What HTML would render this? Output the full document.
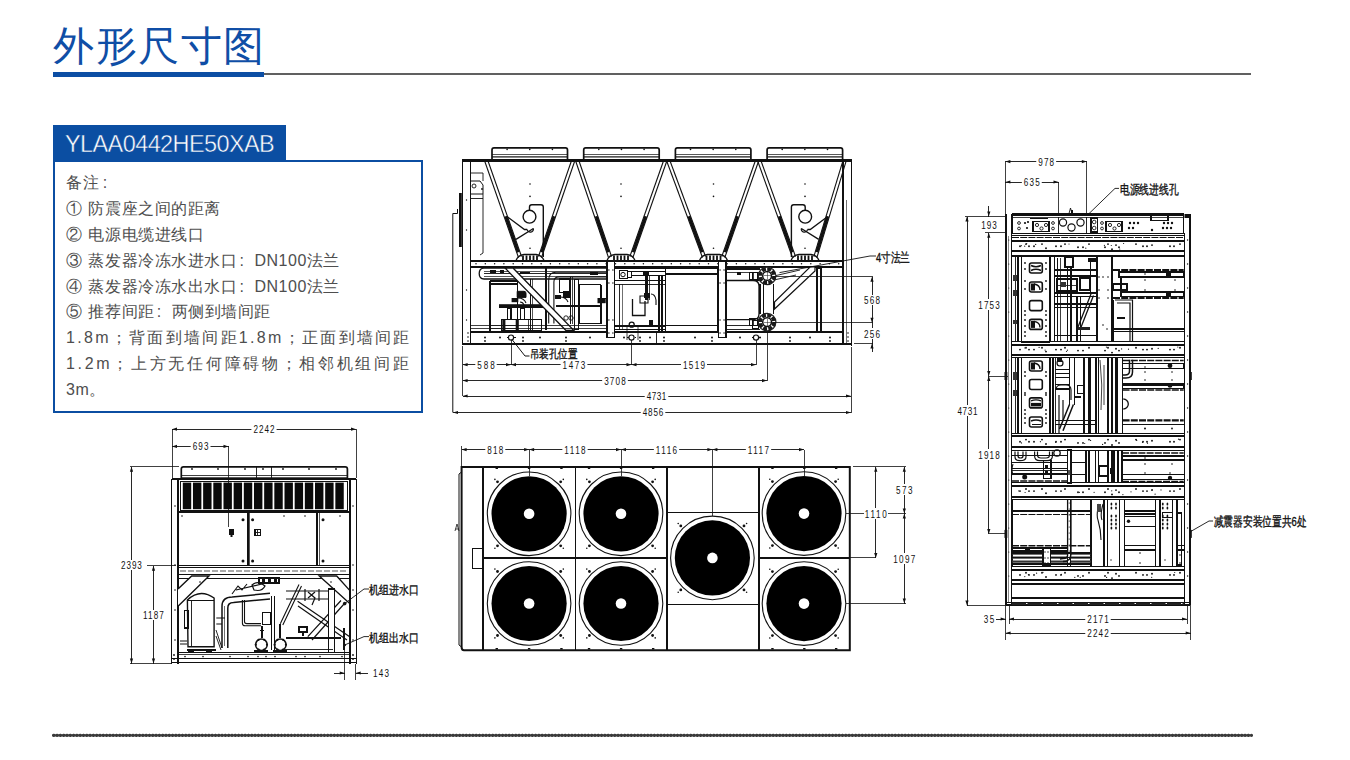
<!DOCTYPE html>
<html><head><meta charset="utf-8">
<style>
html,body{margin:0;padding:0;background:#fff;}
body{width:1350px;height:760px;position:relative;overflow:hidden;font-family:"Liberation Sans",sans-serif;}
.title{position:absolute;left:53px;top:18px;font-size:41px;line-height:56px;color:#0f4ea6;letter-spacing:1.5px;white-space:nowrap;}
.bar{position:absolute;left:53px;top:72px;width:211px;height:5px;background:#0c4ea4;}
.rule{position:absolute;left:264px;top:73px;width:987px;height:2px;background:#606060;}
.hdr{position:absolute;left:53px;top:125px;width:233px;height:36px;background:#0b4ea2;}
.hdr span{position:absolute;left:12px;top:5px;font-size:23.5px;line-height:28px;color:#fff;white-space:nowrap;letter-spacing:-0.6px;-webkit-text-stroke:0.45px #0b4ea2;}
.box{position:absolute;left:52.5px;top:159.5px;width:366.5px;height:249px;border:2px solid #0b4ea2;}
.notes{position:absolute;left:66px;top:170.4px;width:341px;font-size:16px;line-height:25.8px;color:#4e4e4e;letter-spacing:0.55px;}
.notes div{white-space:nowrap;}
.notes .n{display:inline-block;width:22px;}
.notes .c{display:inline-block;width:17px;padding-left:2px;box-sizing:border-box;}
svg{position:absolute;left:0;top:0;}
</style></head><body>
<div class="title">外形尺寸图</div>
<div class="bar"></div>
<div class="rule"></div>
<div class="box"></div>
<div class="hdr"><span>YLAA0442HE50XAB</span></div>
<div class="notes">
<div>备注 :</div>
<div>① 防震座之间的距离</div>
<div>② 电源电缆进线口</div>
<div>③ 蒸发器冷冻水进水口<span class="c">:</span>DN100法兰</div>
<div>④ 蒸发器冷冻水出水口<span class="c">:</span>DN100法兰</div>
<div>⑤ 推荐间距<span class="c">:</span>两侧到墙间距</div>
<div style="letter-spacing:2.3px">1.8m；背面到墙间距1.8m；正面到墙间距</div>
<div style="letter-spacing:2.7px">1.2m；上方无任何障碍物；相邻机组间距</div>
<div>3m。</div>
</div>
<svg width="1350" height="760" viewBox="0 0 1350 760">
<path d="M492.0,159.3 L492.0,150 Q492.0,147.9 494.0,147.9 L565.5,147.9 Q567.5,147.9 567.5,150 L567.5,159.3" stroke="#111" stroke-width="1.7" fill="none"/>
<line x1="492.0" y1="154.5" x2="567.5" y2="154.5" stroke="#111" stroke-width="0.7" shape-rendering="crispEdges"/>
<line x1="492.0" y1="156.3" x2="567.5" y2="156.3" stroke="#111" stroke-width="0.7" shape-rendering="crispEdges"/>
<line x1="492.0" y1="157.8" x2="567.5" y2="157.8" stroke="#111" stroke-width="0.5" shape-rendering="crispEdges"/>
<circle cx="507.1" cy="149.4" r="0.8" fill="#111"/>
<circle cx="529.75" cy="149.4" r="0.8" fill="#111"/>
<circle cx="552.4" cy="149.4" r="0.8" fill="#111"/>
<path d="M583.7,159.3 L583.7,150 Q583.7,147.9 585.7,147.9 L657.2,147.9 Q659.2,147.9 659.2,150 L659.2,159.3" stroke="#111" stroke-width="1.7" fill="none"/>
<line x1="583.7" y1="154.5" x2="659.2" y2="154.5" stroke="#111" stroke-width="0.7" shape-rendering="crispEdges"/>
<line x1="583.7" y1="156.3" x2="659.2" y2="156.3" stroke="#111" stroke-width="0.7" shape-rendering="crispEdges"/>
<line x1="583.7" y1="157.8" x2="659.2" y2="157.8" stroke="#111" stroke-width="0.5" shape-rendering="crispEdges"/>
<circle cx="598.8000000000001" cy="149.4" r="0.8" fill="#111"/>
<circle cx="621.45" cy="149.4" r="0.8" fill="#111"/>
<circle cx="644.1" cy="149.4" r="0.8" fill="#111"/>
<path d="M675.4,159.3 L675.4,150 Q675.4,147.9 677.4,147.9 L748.9,147.9 Q750.9,147.9 750.9,150 L750.9,159.3" stroke="#111" stroke-width="1.7" fill="none"/>
<line x1="675.4" y1="154.5" x2="750.9" y2="154.5" stroke="#111" stroke-width="0.7" shape-rendering="crispEdges"/>
<line x1="675.4" y1="156.3" x2="750.9" y2="156.3" stroke="#111" stroke-width="0.7" shape-rendering="crispEdges"/>
<line x1="675.4" y1="157.8" x2="750.9" y2="157.8" stroke="#111" stroke-width="0.5" shape-rendering="crispEdges"/>
<circle cx="690.5" cy="149.4" r="0.8" fill="#111"/>
<circle cx="713.15" cy="149.4" r="0.8" fill="#111"/>
<circle cx="735.8" cy="149.4" r="0.8" fill="#111"/>
<path d="M767.1,159.3 L767.1,150 Q767.1,147.9 769.1,147.9 L840.6,147.9 Q842.6,147.9 842.6,150 L842.6,159.3" stroke="#111" stroke-width="1.7" fill="none"/>
<line x1="767.1" y1="154.5" x2="842.6" y2="154.5" stroke="#111" stroke-width="0.7" shape-rendering="crispEdges"/>
<line x1="767.1" y1="156.3" x2="842.6" y2="156.3" stroke="#111" stroke-width="0.7" shape-rendering="crispEdges"/>
<line x1="767.1" y1="157.8" x2="842.6" y2="157.8" stroke="#111" stroke-width="0.5" shape-rendering="crispEdges"/>
<circle cx="782.2" cy="149.4" r="0.8" fill="#111"/>
<circle cx="804.85" cy="149.4" r="0.8" fill="#111"/>
<circle cx="827.5" cy="149.4" r="0.8" fill="#111"/>
<line x1="462.5" y1="160.3" x2="851.5" y2="160.3" stroke="#111" stroke-width="2.4" shape-rendering="crispEdges"/>
<line x1="462.5" y1="159" x2="462.5" y2="345" stroke="#111" stroke-width="1.1" shape-rendering="crispEdges"/>
<line x1="470.5" y1="159" x2="470.5" y2="344" stroke="#111" stroke-width="1.0" shape-rendering="crispEdges"/>
<line x1="851.5" y1="159" x2="851.5" y2="346" stroke="#111" stroke-width="1.5" shape-rendering="crispEdges"/>
<line x1="843" y1="159" x2="843" y2="344" stroke="#111" stroke-width="1.3" shape-rendering="crispEdges"/>
<line x1="846.5" y1="200" x2="846.5" y2="344" stroke="#111" stroke-width="0.6" shape-rendering="crispEdges"/>
<circle cx="466.5" cy="200" r="0.7" fill="#111"/>
<circle cx="466.5" cy="230" r="0.7" fill="#111"/>
<circle cx="466.5" cy="290" r="0.7" fill="#111"/>
<circle cx="466.5" cy="320" r="0.7" fill="#111"/>
<line x1="484.4900694706371" y1="160.52925399998287" x2="518.4900694706371" y2="257.52925399998287" stroke="#111" stroke-width="1.1"/>
<line x1="487.5099305293629" y1="159.47074600001713" x2="521.5099305293629" y2="256.47074600001713" stroke="#111" stroke-width="1.1"/>
<line x1="505.72" y1="216.26" x2="518.3" y2="252.14999999999998" stroke="#111" stroke-width="3.0"/>
<line x1="571.8871713425139" y1="159.47908786432953" x2="538.4871713425139" y2="256.47908786432953" stroke="#111" stroke-width="1.1"/>
<line x1="574.9128286574861" y1="160.52091213567047" x2="541.5128286574861" y2="257.52091213567047" stroke="#111" stroke-width="1.1"/>
<line x1="554.028" y1="216.26" x2="541.67" y2="252.14999999999998" stroke="#111" stroke-width="3.0"/>
<line x1="575.4852588188488" y1="160.51532431936073" x2="608.4852588188488" y2="257.51532431936073" stroke="#111" stroke-width="1.1"/>
<line x1="578.5147411811512" y1="159.48467568063927" x2="611.5147411811512" y2="256.48467568063927" stroke="#111" stroke-width="1.1"/>
<line x1="596.14" y1="216.26" x2="608.35" y2="252.14999999999998" stroke="#111" stroke-width="3.0"/>
<line x1="663.9905558718951" y1="159.46936036321262" x2="629.8905558718951" y2="256.4693603632126" stroke="#111" stroke-width="1.1"/>
<line x1="667.0094441281049" y1="160.53063963678738" x2="632.9094441281048" y2="257.5306396367874" stroke="#111" stroke-width="1.1"/>
<line x1="645.722" y1="216.26" x2="633.105" y2="252.14999999999998" stroke="#111" stroke-width="3.0"/>
<line x1="666.4999754011047" y1="160.55671016041475" x2="702.4999754011047" y2="257.55671016041475" stroke="#111" stroke-width="1.1"/>
<line x1="669.5000245988953" y1="159.44328983958525" x2="705.5000245988953" y2="256.44328983958525" stroke="#111" stroke-width="1.1"/>
<line x1="688.88" y1="216.26" x2="702.2" y2="252.14999999999998" stroke="#111" stroke-width="3.0"/>
<line x1="755.790069470637" y1="159.47074600001713" x2="721.790069470637" y2="256.47074600001713" stroke="#111" stroke-width="1.1"/>
<line x1="758.8099305293629" y1="160.52925399998287" x2="724.8099305293629" y2="257.52925399998287" stroke="#111" stroke-width="1.1"/>
<line x1="737.5799999999999" y1="216.26" x2="725.0" y2="252.14999999999998" stroke="#111" stroke-width="3.0"/>
<line x1="757.4949761267238" y1="160.5430498511821" x2="792.4949761267238" y2="257.5430498511821" stroke="#111" stroke-width="1.1"/>
<line x1="760.5050238732762" y1="159.4569501488179" x2="795.5050238732762" y2="256.4569501488179" stroke="#111" stroke-width="1.1"/>
<line x1="779.3" y1="216.26" x2="792.25" y2="252.14999999999998" stroke="#111" stroke-width="3.0"/>
<line x1="843.268787508308" y1="159.53590054375525" x2="813.8687875083081" y2="256.53590054375525" stroke="#111" stroke-width="1.1"/>
<line x1="846.3312124916919" y1="160.46409945624475" x2="816.9312124916919" y2="257.46409945624475" stroke="#111" stroke-width="1.1"/>
<line x1="827.7479999999999" y1="216.26" x2="816.87" y2="252.14999999999998" stroke="#111" stroke-width="3.0"/>
<path d="M516,260.5 Q518,255 524,254.5 L536,254.5 Q542,255 544,260.5" stroke="#111" stroke-width="1.3" fill="none"/>
<rect x="522.1" y="255.5" width="1.8" height="4.5" fill="#111"/>
<rect x="525.6" y="255.5" width="1.8" height="4.5" fill="#111"/>
<rect x="529.1" y="255.5" width="1.8" height="4.5" fill="#111"/>
<rect x="532.6" y="255.5" width="1.8" height="4.5" fill="#111"/>
<rect x="536.1" y="255.5" width="1.8" height="4.5" fill="#111"/>
<path d="M607,260.5 Q609,255 615,254.5 L627,254.5 Q633,255 635,260.5" stroke="#111" stroke-width="1.3" fill="none"/>
<rect x="613.1" y="255.5" width="1.8" height="4.5" fill="#111"/>
<rect x="616.6" y="255.5" width="1.8" height="4.5" fill="#111"/>
<rect x="620.1" y="255.5" width="1.8" height="4.5" fill="#111"/>
<rect x="623.6" y="255.5" width="1.8" height="4.5" fill="#111"/>
<rect x="627.1" y="255.5" width="1.8" height="4.5" fill="#111"/>
<path d="M699.5,260.5 Q701.5,255 707.5,254.5 L719.5,254.5 Q725.5,255 727.5,260.5" stroke="#111" stroke-width="1.3" fill="none"/>
<rect x="705.6" y="255.5" width="1.8" height="4.5" fill="#111"/>
<rect x="709.1" y="255.5" width="1.8" height="4.5" fill="#111"/>
<rect x="712.6" y="255.5" width="1.8" height="4.5" fill="#111"/>
<rect x="716.1" y="255.5" width="1.8" height="4.5" fill="#111"/>
<rect x="719.6" y="255.5" width="1.8" height="4.5" fill="#111"/>
<path d="M791,260.5 Q793,255 799,254.5 L811,254.5 Q817,255 819,260.5" stroke="#111" stroke-width="1.3" fill="none"/>
<rect x="797.1" y="255.5" width="1.8" height="4.5" fill="#111"/>
<rect x="800.6" y="255.5" width="1.8" height="4.5" fill="#111"/>
<rect x="804.1" y="255.5" width="1.8" height="4.5" fill="#111"/>
<rect x="807.6" y="255.5" width="1.8" height="4.5" fill="#111"/>
<rect x="811.1" y="255.5" width="1.8" height="4.5" fill="#111"/>
<g >
<path d="M529.5,211 L529.5,207 Q529.5,204.8 531.8,204.8 L541,204.8 Q543.3,204.8 543.3,207 L543.3,257" stroke="#111" stroke-width="1.4" fill="none"/>
<circle cx="529.5" cy="216.7" r="6.4" fill="#fff" stroke="#111" stroke-width="1.4"/>
<path d="M507.3,216.7 L524.5,229.5 L527.2,229.5 M533.4,228.5 L516,239.4" stroke="#111" stroke-width="1.3" fill="none"/>
<path d="M527.2,229.5 A3,3 0 1 0 533.4,228.5" stroke="#111" stroke-width="1.2" fill="none"/>
</g>
<g transform="translate(1334.7,0) scale(-1,1)">
<path d="M529.5,211 L529.5,207 Q529.5,204.8 531.8,204.8 L541,204.8 Q543.3,204.8 543.3,207 L543.3,257" stroke="#111" stroke-width="1.4" fill="none"/>
<circle cx="529.5" cy="216.7" r="6.4" fill="#fff" stroke="#111" stroke-width="1.4"/>
<path d="M507.3,216.7 L524.5,229.5 L527.2,229.5 M533.4,228.5 L516,239.4" stroke="#111" stroke-width="1.3" fill="none"/>
<path d="M527.2,229.5 A3,3 0 1 0 533.4,228.5" stroke="#111" stroke-width="1.2" fill="none"/>
</g>
<circle cx="530" cy="184" r="0.8" fill="#111"/>
<circle cx="530" cy="196.4" r="0.8" fill="#111"/>
<circle cx="530" cy="248.2" r="0.8" fill="#111"/>
<circle cx="621" cy="184" r="0.8" fill="#111"/>
<circle cx="621" cy="196.4" r="0.8" fill="#111"/>
<circle cx="621" cy="248.2" r="0.8" fill="#111"/>
<circle cx="713.5" cy="184" r="0.8" fill="#111"/>
<circle cx="713.5" cy="196.4" r="0.8" fill="#111"/>
<circle cx="713.5" cy="248.2" r="0.8" fill="#111"/>
<circle cx="805" cy="184" r="0.8" fill="#111"/>
<circle cx="805" cy="196.4" r="0.8" fill="#111"/>
<circle cx="805" cy="248.2" r="0.8" fill="#111"/>
<path d="M471,173 L483,173 L483,181 M483,194 L483,253 L480,255" stroke="#111" stroke-width="0.9" fill="none"/>
<path d="M471,181 L480,181 L483,185 L483,194 L471,194" stroke="#111" stroke-width="1.0" fill="none"/>
<circle cx="474" cy="186" r="2" fill="none" stroke="#111" stroke-width="0.9"/>
<circle cx="482" cy="189" r="0.9" fill="#111"/>
<line x1="471" y1="198" x2="483" y2="198" stroke="#111" stroke-width="0.9" shape-rendering="crispEdges"/>
<rect x="459" y="193" width="2.8" height="54" fill="#111"/>
<path d="M452.8,412.5 L452.8,213.5 L457.5,213.5 L457.5,209" stroke="#111" stroke-width="1" fill="none"/>
<line x1="470.5" y1="261" x2="843" y2="261" stroke="#111" stroke-width="2.2" shape-rendering="crispEdges"/>
<line x1="470.5" y1="267" x2="843" y2="267" stroke="#111" stroke-width="1.8" shape-rendering="crispEdges"/>
<circle cx="476.0" cy="263.8" r="0.75" fill="#111"/>
<circle cx="485.3" cy="263.8" r="0.75" fill="#111"/>
<circle cx="494.6" cy="263.8" r="0.75" fill="#111"/>
<circle cx="503.9" cy="263.8" r="0.75" fill="#111"/>
<circle cx="513.2" cy="263.8" r="0.75" fill="#111"/>
<circle cx="522.5" cy="263.8" r="0.75" fill="#111"/>
<circle cx="531.8" cy="263.8" r="0.75" fill="#111"/>
<circle cx="541.1" cy="263.8" r="0.75" fill="#111"/>
<circle cx="550.4" cy="263.8" r="0.75" fill="#111"/>
<circle cx="559.7" cy="263.8" r="0.75" fill="#111"/>
<circle cx="569.0" cy="263.8" r="0.75" fill="#111"/>
<circle cx="578.3" cy="263.8" r="0.75" fill="#111"/>
<circle cx="587.6" cy="263.8" r="0.75" fill="#111"/>
<circle cx="596.9" cy="263.8" r="0.75" fill="#111"/>
<circle cx="606.2" cy="263.8" r="0.75" fill="#111"/>
<circle cx="615.5" cy="263.8" r="0.75" fill="#111"/>
<circle cx="624.8" cy="263.8" r="0.75" fill="#111"/>
<circle cx="634.1" cy="263.8" r="0.75" fill="#111"/>
<circle cx="643.4" cy="263.8" r="0.75" fill="#111"/>
<circle cx="652.7" cy="263.8" r="0.75" fill="#111"/>
<circle cx="662.0" cy="263.8" r="0.75" fill="#111"/>
<circle cx="671.3" cy="263.8" r="0.75" fill="#111"/>
<circle cx="680.6" cy="263.8" r="0.75" fill="#111"/>
<circle cx="689.9" cy="263.8" r="0.75" fill="#111"/>
<circle cx="699.2" cy="263.8" r="0.75" fill="#111"/>
<circle cx="708.5" cy="263.8" r="0.75" fill="#111"/>
<circle cx="717.8" cy="263.8" r="0.75" fill="#111"/>
<circle cx="727.1" cy="263.8" r="0.75" fill="#111"/>
<circle cx="736.4" cy="263.8" r="0.75" fill="#111"/>
<circle cx="745.7" cy="263.8" r="0.75" fill="#111"/>
<circle cx="755.0" cy="263.8" r="0.75" fill="#111"/>
<circle cx="764.3" cy="263.8" r="0.75" fill="#111"/>
<circle cx="773.6" cy="263.8" r="0.75" fill="#111"/>
<circle cx="782.9" cy="263.8" r="0.75" fill="#111"/>
<circle cx="792.2" cy="263.8" r="0.75" fill="#111"/>
<circle cx="801.5" cy="263.8" r="0.75" fill="#111"/>
<circle cx="810.8" cy="263.8" r="0.75" fill="#111"/>
<circle cx="820.1" cy="263.8" r="0.75" fill="#111"/>
<circle cx="829.4" cy="263.8" r="0.75" fill="#111"/>
<circle cx="838.7" cy="263.8" r="0.75" fill="#111"/>
<line x1="470.5" y1="331.8" x2="843" y2="331.8" stroke="#111" stroke-width="2.0" shape-rendering="crispEdges"/>
<line x1="462.5" y1="344" x2="851.5" y2="344" stroke="#111" stroke-width="2.0" shape-rendering="crispEdges"/>
<circle cx="485" cy="337.6" r="1.0" fill="#111"/>
<circle cx="500" cy="337.6" r="1.0" fill="#111"/>
<circle cx="523" cy="337.6" r="1.0" fill="#111"/>
<circle cx="540" cy="337.6" r="1.0" fill="#111"/>
<circle cx="566" cy="337.6" r="1.0" fill="#111"/>
<circle cx="590" cy="337.6" r="1.0" fill="#111"/>
<circle cx="624" cy="337.6" r="1.0" fill="#111"/>
<circle cx="640" cy="337.6" r="1.0" fill="#111"/>
<circle cx="650" cy="337.6" r="1.0" fill="#111"/>
<circle cx="664" cy="337.6" r="1.0" fill="#111"/>
<circle cx="695" cy="337.6" r="1.0" fill="#111"/>
<circle cx="712" cy="337.6" r="1.0" fill="#111"/>
<circle cx="740" cy="337.6" r="1.0" fill="#111"/>
<circle cx="760" cy="337.6" r="1.0" fill="#111"/>
<circle cx="790" cy="337.6" r="1.0" fill="#111"/>
<circle cx="810" cy="337.6" r="1.0" fill="#111"/>
<circle cx="830" cy="337.6" r="1.0" fill="#111"/>
<circle cx="485" cy="341" r="0.9" fill="#111"/>
<circle cx="523" cy="341" r="0.9" fill="#111"/>
<circle cx="566" cy="341" r="0.9" fill="#111"/>
<circle cx="640" cy="341" r="0.9" fill="#111"/>
<circle cx="664" cy="341" r="0.9" fill="#111"/>
<circle cx="712" cy="341" r="0.9" fill="#111"/>
<circle cx="790" cy="341" r="0.9" fill="#111"/>
<circle cx="830" cy="341" r="0.9" fill="#111"/>
<line x1="656.5" y1="331.5" x2="656.5" y2="344" stroke="#111" stroke-width="0.9" shape-rendering="crispEdges"/>
<circle cx="468" cy="333" r="0.8" fill="#111"/>
<circle cx="468" cy="337" r="0.8" fill="#111"/>
<circle cx="468" cy="341" r="0.8" fill="#111"/>
<circle cx="848" cy="333" r="0.8" fill="#111"/>
<circle cx="848" cy="337" r="0.8" fill="#111"/>
<circle cx="848" cy="341" r="0.8" fill="#111"/>
<rect x="607" y="261" width="7.7999999999999545" height="76.5" fill="#fff" stroke="#111" stroke-width="1.4" rx="0" shape-rendering="crispEdges"/>
<circle cx="608.9" cy="270" r="0.7" fill="#111"/>
<circle cx="612.9" cy="270" r="0.7" fill="#111"/>
<circle cx="608.9" cy="283" r="0.7" fill="#111"/>
<circle cx="612.9" cy="283" r="0.7" fill="#111"/>
<circle cx="608.9" cy="320" r="0.7" fill="#111"/>
<circle cx="612.9" cy="320" r="0.7" fill="#111"/>
<circle cx="608.9" cy="333" r="0.7" fill="#111"/>
<circle cx="612.9" cy="333" r="0.7" fill="#111"/>
<rect x="718.2" y="261" width="7.699999999999932" height="76.5" fill="#fff" stroke="#111" stroke-width="1.4" rx="0" shape-rendering="crispEdges"/>
<circle cx="720.05" cy="270" r="0.7" fill="#111"/>
<circle cx="724.05" cy="270" r="0.7" fill="#111"/>
<circle cx="720.05" cy="283" r="0.7" fill="#111"/>
<circle cx="724.05" cy="283" r="0.7" fill="#111"/>
<circle cx="720.05" cy="320" r="0.7" fill="#111"/>
<circle cx="724.05" cy="320" r="0.7" fill="#111"/>
<circle cx="720.05" cy="333" r="0.7" fill="#111"/>
<circle cx="724.05" cy="333" r="0.7" fill="#111"/>
<rect x="817" y="268" width="4" height="64" fill="none" stroke="#111" stroke-width="1.1" rx="0" shape-rendering="crispEdges"/>
<path d="M484,268.2 L607,268.2 M479.2,273.6 Q479.2,268.2 484,268.2 M479.2,273.6 Q479.2,279 484,279 L607,279" stroke="#111" stroke-width="1.3" fill="none"/>
<line x1="484" y1="271" x2="607" y2="271" stroke="#111" stroke-width="0.7" shape-rendering="crispEdges"/>
<line x1="484" y1="273.5" x2="607" y2="273.5" stroke="#111" stroke-width="0.9" shape-rendering="crispEdges"/>
<line x1="484" y1="276.5" x2="607" y2="276.5" stroke="#111" stroke-width="0.7" shape-rendering="crispEdges"/>
<rect x="490" y="270" width="6" height="3" fill="#111"/>
<rect x="500" y="270" width="4" height="3" fill="#111"/>
<rect x="520" y="272" width="10" height="2" fill="#111"/>
<rect x="590" y="272" width="8" height="3" fill="#111"/>
<line x1="490" y1="281" x2="517.2" y2="281" stroke="#111" stroke-width="1.4" shape-rendering="crispEdges"/>
<line x1="490" y1="284" x2="517.2" y2="284" stroke="#111" stroke-width="1.2" shape-rendering="crispEdges"/>
<line x1="490" y1="281" x2="490" y2="330.8" stroke="#111" stroke-width="1.3" shape-rendering="crispEdges"/>
<line x1="517.2" y1="281" x2="517.2" y2="330.8" stroke="#111" stroke-width="1.2" shape-rendering="crispEdges"/>
<line x1="490" y1="325.7" x2="517" y2="325.7" stroke="#111" stroke-width="0.7" shape-rendering="crispEdges"/>
<line x1="490" y1="328.7" x2="517" y2="328.7" stroke="#111" stroke-width="0.7" shape-rendering="crispEdges"/>
<line x1="530.6" y1="279" x2="530.6" y2="330" stroke="#111" stroke-width="1.1" shape-rendering="crispEdges"/>
<line x1="532.6" y1="279" x2="532.6" y2="330" stroke="#111" stroke-width="0.7" shape-rendering="crispEdges"/>
<line x1="546" y1="268" x2="546" y2="330" stroke="#111" stroke-width="1.4" shape-rendering="crispEdges"/>
<path d="M548.7,323.6 L548.7,280 Q548.7,272.3 556,272.3 L607,272.3 M553.9,323.6 L553.9,282 Q553.9,276.9 559,276.9 L607,276.9" stroke="#111" stroke-width="1.1" fill="none"/>
<rect x="559.5" y="279" width="10.3" height="13.8" fill="none" stroke="#111" stroke-width="1.1" rx="0" shape-rendering="crispEdges"/>
<line x1="570.8" y1="277" x2="570.8" y2="324" stroke="#111" stroke-width="1.1" shape-rendering="crispEdges"/>
<line x1="572.9" y1="277" x2="572.9" y2="324" stroke="#111" stroke-width="0.8" shape-rendering="crispEdges"/>
<rect x="574.9" y="279.5" width="3.6" height="50.3" fill="none" stroke="#111" stroke-width="1.1" rx="0" shape-rendering="crispEdges"/>
<line x1="579" y1="284.6" x2="601" y2="284.6" stroke="#111" stroke-width="1.6" shape-rendering="crispEdges"/>
<line x1="579" y1="284.6" x2="579" y2="323.6" stroke="#111" stroke-width="1.1" shape-rendering="crispEdges"/>
<line x1="601" y1="284.6" x2="601" y2="323.6" stroke="#111" stroke-width="1.1" shape-rendering="crispEdges"/>
<line x1="579" y1="323.6" x2="601" y2="323.6" stroke="#111" stroke-width="1.1" shape-rendering="crispEdges"/>
<path d="M517.2,291.3 L524,291.3 Q526,291.3 526,293.3 L526,297.4 L517.2,297.4 Z" stroke="#111" stroke-width="1" fill="#111"/>
<rect x="511.6" y="298" width="6.7" height="4.2" fill="#111"/>
<path d="M518,298 Q524,298 526,303 M520,302 Q523,302 524,305" stroke="#111" stroke-width="1.1" fill="none"/>
<line x1="499.3" y1="306.3" x2="546" y2="306.3" stroke="#111" stroke-width="2.6" shape-rendering="crispEdges"/>
<line x1="499.3" y1="304" x2="546" y2="304" stroke="#111" stroke-width="0.8" shape-rendering="crispEdges"/>
<rect x="507.5" y="308" width="3.5" height="11.5" fill="none" stroke="#111" stroke-width="1.1" rx="0" shape-rendering="crispEdges"/>
<rect x="520.8" y="308" width="3.5" height="11.5" fill="none" stroke="#111" stroke-width="1.1" rx="0" shape-rendering="crispEdges"/>
<rect x="501.8" y="319.5" width="40" height="10.8" fill="none" stroke="#111" stroke-width="1.1" rx="0" shape-rendering="crispEdges"/>
<rect x="502.3" y="319.5" width="3.1" height="10.8" fill="#111"/>
<rect x="515.7" y="319.5" width="3.1" height="10.8" fill="#111"/>
<line x1="528" y1="319.5" x2="528" y2="330.3" stroke="#111" stroke-width="0.8" shape-rendering="crispEdges"/>
<line x1="532" y1="319.5" x2="532" y2="330.3" stroke="#111" stroke-width="0.8" shape-rendering="crispEdges"/>
<rect x="563" y="291" width="7" height="7" fill="#111"/>
<rect x="555" y="295" width="6" height="4" fill="#111"/>
<path d="M560,297 Q566,297 568,302" stroke="#111" stroke-width="1.1" fill="none"/>
<rect x="597.5" y="298" width="8.2" height="5.2" fill="#111"/>
<line x1="556" y1="306" x2="600" y2="306" stroke="#111" stroke-width="1.4" shape-rendering="crispEdges"/>
<circle cx="566" cy="318" r="2.2" fill="none" stroke="#111" stroke-width="0.9"/>
<circle cx="571" cy="318" r="2.2" fill="none" stroke="#111" stroke-width="0.9"/>
<line x1="600" y1="298" x2="607" y2="298" stroke="#111" stroke-width="1" shape-rendering="crispEdges"/>
<path d="M505,268 L513,268 L574,330.5 L566,330.5 Z" stroke="#111" stroke-width="1.3" fill="#fff"/>
<line x1="470.5" y1="325" x2="607" y2="325" stroke="#111" stroke-width="0.8" shape-rendering="crispEdges"/>
<line x1="470.5" y1="328" x2="607" y2="328" stroke="#111" stroke-width="0.8" shape-rendering="crispEdges"/>
<line x1="614.5" y1="268.5" x2="665.4" y2="268.5" stroke="#111" stroke-width="1.3" shape-rendering="crispEdges"/>
<rect x="619" y="270" width="8" height="8" fill="none" stroke="#111" stroke-width="1" rx="0" shape-rendering="crispEdges"/>
<circle cx="623" cy="274.6" r="2.2" fill="none" stroke="#111" stroke-width="1"/>
<rect x="627" y="271" width="4" height="6" fill="none" stroke="#111" stroke-width="1" rx="0" shape-rendering="crispEdges"/>
<line x1="631" y1="271" x2="665.4" y2="271" stroke="#111" stroke-width="1.0" shape-rendering="crispEdges"/>
<line x1="631" y1="275" x2="665.4" y2="275" stroke="#111" stroke-width="1.0" shape-rendering="crispEdges"/>
<rect x="643" y="271" width="6" height="4" fill="#111"/>
<line x1="614.5" y1="280.5" x2="665.4" y2="280.5" stroke="#111" stroke-width="1.2" shape-rendering="crispEdges"/>
<line x1="614.5" y1="284" x2="665.4" y2="284" stroke="#111" stroke-width="0.9" shape-rendering="crispEdges"/>
<line x1="619" y1="284" x2="619" y2="330" stroke="#111" stroke-width="0.9" shape-rendering="crispEdges"/>
<line x1="622" y1="284" x2="622" y2="330" stroke="#111" stroke-width="0.6" shape-rendering="crispEdges"/>
<line x1="646.5" y1="276" x2="646.5" y2="300" stroke="#111" stroke-width="2.4" shape-rendering="crispEdges"/>
<line x1="649.5" y1="276" x2="649.5" y2="300" stroke="#111" stroke-width="0.8" shape-rendering="crispEdges"/>
<path d="M651,294 Q655,294 656,300 L656,305 M640,296 L648,296 L648,303 L640,303 Z" stroke="#111" stroke-width="1.1" fill="none"/>
<rect x="644" y="293" width="6" height="5" fill="#111"/>
<path d="M632.5,299 L632.5,315.5 L645,315.5 L645,301" stroke="#111" stroke-width="1.3" fill="none"/>
<path d="M627,325 L627,340 M638,325 L638,340" stroke="#111" stroke-width="0.8" fill="none"/>
<circle cx="631.7" cy="324.7" r="2.5" fill="#fff" stroke="#111" stroke-width="1.3"/>
<rect x="649" y="320" width="4" height="7" fill="#111"/>
<line x1="659" y1="276" x2="659" y2="331" stroke="#111" stroke-width="1.1" shape-rendering="crispEdges"/>
<line x1="662" y1="276" x2="662" y2="331" stroke="#111" stroke-width="1.1" shape-rendering="crispEdges"/>
<line x1="614.5" y1="326" x2="665.4" y2="326" stroke="#111" stroke-width="1.2" shape-rendering="crispEdges"/>
<line x1="614.5" y1="329.5" x2="665.4" y2="329.5" stroke="#111" stroke-width="1.2" shape-rendering="crispEdges"/>
<rect x="665.4" y="268" width="52.2" height="63.5" fill="none" stroke="#111" stroke-width="1.3" rx="0" shape-rendering="crispEdges"/>
<line x1="665.4" y1="274" x2="717.6" y2="274" stroke="#111" stroke-width="1.2" shape-rendering="crispEdges"/>
<line x1="665.4" y1="325.5" x2="717.6" y2="325.5" stroke="#111" stroke-width="1.2" shape-rendering="crispEdges"/>
<path d="M726,280.5 L753,280.5 Q759,280.5 759,286 L759,314 Q759,319.6 753,319.6 L726,319.6" stroke="#111" stroke-width="1.3" fill="none"/>
<line x1="726" y1="269" x2="760" y2="269" stroke="#111" stroke-width="1.6" shape-rendering="crispEdges"/>
<line x1="726" y1="272" x2="760" y2="272" stroke="#111" stroke-width="0.8" shape-rendering="crispEdges"/>
<line x1="726" y1="325" x2="760" y2="325" stroke="#111" stroke-width="0.9" shape-rendering="crispEdges"/>
<line x1="726" y1="329" x2="760" y2="329" stroke="#111" stroke-width="0.9" shape-rendering="crispEdges"/>
<rect x="752" y="272" width="6" height="8" fill="none" stroke="#111" stroke-width="1" rx="0" shape-rendering="crispEdges"/>
<rect x="752" y="320" width="6" height="8" fill="none" stroke="#111" stroke-width="1" rx="0" shape-rendering="crispEdges"/>
<rect x="737" y="272" width="4" height="3" fill="#111"/>
<path d="M774,276 L800,270 M774,280 L796,275" stroke="#111" stroke-width="0.9" fill="none"/>
<circle cx="767.1" cy="275.9" r="8.8" fill="#fff" stroke="#222" stroke-width="1.2"/>
<circle cx="767.1" cy="275.9" r="6.9" fill="none" stroke="#1a1a1a" stroke-width="3.6" stroke-dasharray="4.1 1.3"/>
<circle cx="767.1" cy="275.9" r="4.4" fill="#fff" stroke="#111" stroke-width="1.5"/>
<line x1="767.1" y1="272.4" x2="767.1" y2="279.4" stroke="#111" stroke-width="0.5" shape-rendering="crispEdges"/>
<line x1="763.6" y1="275.9" x2="770.6" y2="275.9" stroke="#111" stroke-width="0.5" shape-rendering="crispEdges"/>
<rect x="749.8" y="272.09999999999997" width="7.7" height="7.6" fill="none" stroke="#111" stroke-width="1.2" rx="0" shape-rendering="crispEdges"/>
<line x1="753" y1="272.09999999999997" x2="753" y2="279.7" stroke="#111" stroke-width="0.8" shape-rendering="crispEdges"/>
<circle cx="767.1" cy="322.1" r="8.8" fill="#fff" stroke="#222" stroke-width="1.2"/>
<circle cx="767.1" cy="322.1" r="6.9" fill="none" stroke="#1a1a1a" stroke-width="3.6" stroke-dasharray="4.1 1.3"/>
<circle cx="767.1" cy="322.1" r="4.4" fill="#fff" stroke="#111" stroke-width="1.5"/>
<line x1="767.1" y1="318.6" x2="767.1" y2="325.6" stroke="#111" stroke-width="0.5" shape-rendering="crispEdges"/>
<line x1="763.6" y1="322.1" x2="770.6" y2="322.1" stroke="#111" stroke-width="0.5" shape-rendering="crispEdges"/>
<rect x="749.8" y="318.3" width="7.7" height="7.6" fill="none" stroke="#111" stroke-width="1.2" rx="0" shape-rendering="crispEdges"/>
<line x1="753" y1="318.3" x2="753" y2="325.90000000000003" stroke="#111" stroke-width="0.8" shape-rendering="crispEdges"/>
<line x1="759.9" y1="284" x2="759.9" y2="314" stroke="#111" stroke-width="1.6" shape-rendering="crispEdges"/>
<line x1="763.75" y1="284" x2="763.75" y2="314" stroke="#111" stroke-width="1.0" shape-rendering="crispEdges"/>
<line x1="773.8" y1="284" x2="773.8" y2="314" stroke="#111" stroke-width="1.3" shape-rendering="crispEdges"/>
<path d="M774.5,302 L774.5,309 L815,271 L815,267 L810,267 Z" stroke="#111" stroke-width="1.2" fill="#fff"/>
<line x1="821.6" y1="268" x2="821.6" y2="332" stroke="#111" stroke-width="1.2" shape-rendering="crispEdges"/>
<circle cx="511" cy="337.6" r="2.6" fill="#fff" stroke="#111" stroke-width="1.2"/>
<line x1="506.5" y1="337.6" x2="508" y2="337.6" stroke="#111" stroke-width="1" shape-rendering="crispEdges"/>
<line x1="514" y1="337.6" x2="515.5" y2="337.6" stroke="#111" stroke-width="1" shape-rendering="crispEdges"/>
<circle cx="631.5" cy="337.6" r="2.6" fill="#fff" stroke="#111" stroke-width="1.2"/>
<line x1="627.0" y1="337.6" x2="628.5" y2="337.6" stroke="#111" stroke-width="1" shape-rendering="crispEdges"/>
<line x1="634.5" y1="337.6" x2="636.0" y2="337.6" stroke="#111" stroke-width="1" shape-rendering="crispEdges"/>
<circle cx="756" cy="337.6" r="2.6" fill="#fff" stroke="#111" stroke-width="1.2"/>
<line x1="751.5" y1="337.6" x2="753" y2="337.6" stroke="#111" stroke-width="1" shape-rendering="crispEdges"/>
<line x1="759" y1="337.6" x2="760.5" y2="337.6" stroke="#111" stroke-width="1" shape-rendering="crispEdges"/>
<path d="M779.5,272.6 L870,256 L876,256" stroke="#111" stroke-width="0.9" fill="none"/>
<text x="876" y="261.8" font-size="12.5" fill="#111" text-anchor="start" font-family="Liberation Sans" textLength="34" lengthAdjust="spacingAndGlyphs" stroke="#111" stroke-width="0.35">4寸法兰</text>
<path d="M512,339.5 L525,356 L529.5,356" stroke="#111" stroke-width="1.0" fill="none"/>
<text x="529.5" y="358.3" font-size="12" fill="#111" text-anchor="start" font-family="Liberation Sans" textLength="48" lengthAdjust="spacingAndGlyphs" stroke="#111" stroke-width="0.35">吊装孔位置</text>
<line x1="462.6" y1="346" x2="462.6" y2="396" stroke="#111" stroke-width="0.8" shape-rendering="crispEdges"/>
<line x1="511" y1="340" x2="511" y2="365" stroke="#111" stroke-width="0.8" shape-rendering="crispEdges"/>
<line x1="631.5" y1="340" x2="631.5" y2="365" stroke="#111" stroke-width="0.8" shape-rendering="crispEdges"/>
<line x1="756" y1="340" x2="756" y2="365" stroke="#111" stroke-width="0.8" shape-rendering="crispEdges"/>
<line x1="767" y1="333" x2="767" y2="381" stroke="#111" stroke-width="0.8" shape-rendering="crispEdges"/>
<line x1="851" y1="347" x2="851" y2="413" stroke="#111" stroke-width="0.8" shape-rendering="crispEdges"/>
<line x1="462.6" y1="364.7" x2="756" y2="364.7" stroke="#111" stroke-width="0.9" shape-rendering="crispEdges"/>
<polygon points="462.6,364.7 467.6,363.09999999999997 467.6,366.3" fill="#111"/>
<polygon points="511,364.7 506,363.09999999999997 506,366.3" fill="#111"/>
<polygon points="511,364.7 516,363.09999999999997 516,366.3" fill="#111"/>
<polygon points="631.5,364.7 626.5,363.09999999999997 626.5,366.3" fill="#111"/>
<polygon points="631.5,364.7 636.5,363.09999999999997 636.5,366.3" fill="#111"/>
<polygon points="756,364.7 751,363.09999999999997 751,366.3" fill="#111"/>
<rect x="475.3" y="360.8" width="21.4" height="8.5" fill="#fff"/>
<text transform="scale(0.74,1)" x="656.76" y="368.7" font-size="11" fill="#111" text-anchor="middle" font-family="Liberation Sans" textLength="23.51" lengthAdjust="spacing">588</text>
<rect x="560.6" y="360.8" width="26.8" height="8.5" fill="#fff"/>
<text transform="scale(0.74,1)" x="775.68" y="368.7" font-size="11" fill="#111" text-anchor="middle" font-family="Liberation Sans" textLength="30.81" lengthAdjust="spacing">1473</text>
<rect x="681.0" y="360.8" width="26" height="8.5" fill="#fff"/>
<text transform="scale(0.74,1)" x="937.84" y="368.7" font-size="11" fill="#111" text-anchor="middle" font-family="Liberation Sans" textLength="29.73" lengthAdjust="spacing">1519</text>
<line x1="462.6" y1="380.6" x2="767" y2="380.6" stroke="#111" stroke-width="0.9" shape-rendering="crispEdges"/>
<polygon points="462.6,380.6 467.6,379.0 467.6,382.20000000000005" fill="#111"/>
<polygon points="767,380.6 762,379.0 762,382.20000000000005" fill="#111"/>
<rect x="602.15" y="376.1" width="25.7" height="9" fill="#fff"/>
<text transform="scale(0.74,1)" x="831.08" y="384.6" font-size="11" fill="#111" text-anchor="middle" font-family="Liberation Sans" textLength="29.32" lengthAdjust="spacing">3708</text>
<line x1="462.6" y1="396" x2="851" y2="396" stroke="#111" stroke-width="0.9" shape-rendering="crispEdges"/>
<polygon points="462.6,396 467.6,394.4 467.6,397.6" fill="#111"/>
<polygon points="851,396 846,394.4 846,397.6" fill="#111"/>
<rect x="644.7" y="391.5" width="23.6" height="9" fill="#fff"/>
<text transform="scale(0.74,1)" x="887.16" y="400" font-size="11" fill="#111" text-anchor="middle" font-family="Liberation Sans" textLength="26.49" lengthAdjust="spacing">4731</text>
<line x1="453" y1="412.5" x2="851" y2="412.5" stroke="#111" stroke-width="0.9" shape-rendering="crispEdges"/>
<polygon points="453,412.5 458,410.9 458,414.1" fill="#111"/>
<polygon points="851,412.5 846,410.9 846,414.1" fill="#111"/>
<rect x="640.7" y="408.0" width="24.6" height="9" fill="#fff"/>
<text transform="scale(0.74,1)" x="882.43" y="416.5" font-size="11" fill="#111" text-anchor="middle" font-family="Liberation Sans" textLength="27.84" lengthAdjust="spacing">4856</text>
<line x1="773" y1="276.7" x2="873" y2="276.7" stroke="#111" stroke-width="0.8" shape-rendering="crispEdges"/>
<line x1="773" y1="322.8" x2="873" y2="322.8" stroke="#111" stroke-width="0.8" shape-rendering="crispEdges"/>
<line x1="854" y1="343.6" x2="873" y2="343.6" stroke="#111" stroke-width="0.8" shape-rendering="crispEdges"/>
<line x1="872" y1="276.7" x2="872" y2="322.8" stroke="#111" stroke-width="0.9" shape-rendering="crispEdges"/>
<polygon points="872,276.7 870.4,281.7 873.6,281.7" fill="#111"/>
<polygon points="872,322.8 870.4,317.8 873.6,317.8" fill="#111"/>
<rect x="862.0" y="295" width="20" height="10" fill="#fff"/>
<text transform="scale(0.74,1)" x="1178.38" y="304" font-size="11" fill="#111" text-anchor="middle" font-family="Liberation Sans" textLength="21.62" lengthAdjust="spacing">568</text>
<line x1="872" y1="322.8" x2="872" y2="352" stroke="#111" stroke-width="0.9" shape-rendering="crispEdges"/>
<polygon points="872,343.6 870.4,348.6 873.6,348.6" fill="#111"/>
<rect x="862" y="328" width="20" height="11" fill="#fff"/>
<text transform="scale(0.74,1)" x="1178.38" y="338" font-size="11" fill="#111" text-anchor="middle" font-family="Liberation Sans" textLength="21.62" lengthAdjust="spacing">256</text>
<path d="M461.6,467 L849.8,467 L849.8,650.2 L464,650.2 Q461.6,650.2 461.6,647 Z" stroke="#111" stroke-width="2.0" fill="none"/>
<line x1="482.9" y1="466.7" x2="482.9" y2="650.2" stroke="#111" stroke-width="1.6" shape-rendering="crispEdges"/>
<line x1="575.3" y1="466.7" x2="575.3" y2="650.2" stroke="#111" stroke-width="1.6" shape-rendering="crispEdges"/>
<line x1="666.9" y1="466.7" x2="666.9" y2="650.2" stroke="#111" stroke-width="1.6" shape-rendering="crispEdges"/>
<line x1="758.8" y1="466.7" x2="758.8" y2="650.2" stroke="#111" stroke-width="1.6" shape-rendering="crispEdges"/>
<line x1="482.9" y1="557.9" x2="666.9" y2="557.9" stroke="#111" stroke-width="1.6" shape-rendering="crispEdges"/>
<line x1="758.8" y1="557.9" x2="849.8" y2="557.9" stroke="#111" stroke-width="1.6" shape-rendering="crispEdges"/>
<line x1="666.9" y1="512.6" x2="758.8" y2="512.6" stroke="#111" stroke-width="1.6" shape-rendering="crispEdges"/>
<line x1="666.9" y1="604.5" x2="758.8" y2="604.5" stroke="#111" stroke-width="1.6" shape-rendering="crispEdges"/>
<path d="M461.6,472 L459,474 L459,645 L461.6,647" stroke="#111" stroke-width="1" fill="none"/>
<rect x="472" y="548.5" width="10" height="19.9" fill="none" stroke="#111" stroke-width="1" rx="0" shape-rendering="crispEdges"/>
<path d="M455,531 L457,524 L459,531 M455.5,529 L458.5,529" stroke="#111" stroke-width="0.8" fill="none"/>
<circle cx="529.1" cy="513.8" r="41.8" fill="none" stroke="#111" stroke-width="1.1"/>
<circle cx="529.1" cy="513.8" r="37.6" fill="#000"/>
<circle cx="529.1" cy="513.8" r="5.3" fill="#fff"/>
<circle cx="497.5" cy="481.79999999999995" r="1.4" fill="#111"/>
<circle cx="494.90000000000003" cy="479.4" r="0.8" fill="#111"/>
<circle cx="560.7" cy="481.79999999999995" r="1.4" fill="#111"/>
<circle cx="563.3000000000001" cy="479.4" r="0.8" fill="#111"/>
<circle cx="497.5" cy="545.8" r="1.4" fill="#111"/>
<circle cx="494.90000000000003" cy="548.1999999999999" r="0.8" fill="#111"/>
<circle cx="560.7" cy="545.8" r="1.4" fill="#111"/>
<circle cx="563.3000000000001" cy="548.1999999999999" r="0.8" fill="#111"/>
<circle cx="621" cy="513.8" r="41.8" fill="none" stroke="#111" stroke-width="1.1"/>
<circle cx="621" cy="513.8" r="37.6" fill="#000"/>
<circle cx="621" cy="513.8" r="5.3" fill="#fff"/>
<circle cx="589.4" cy="481.79999999999995" r="1.4" fill="#111"/>
<circle cx="586.8" cy="479.4" r="0.8" fill="#111"/>
<circle cx="652.6" cy="481.79999999999995" r="1.4" fill="#111"/>
<circle cx="655.2" cy="479.4" r="0.8" fill="#111"/>
<circle cx="589.4" cy="545.8" r="1.4" fill="#111"/>
<circle cx="586.8" cy="548.1999999999999" r="0.8" fill="#111"/>
<circle cx="652.6" cy="545.8" r="1.4" fill="#111"/>
<circle cx="655.2" cy="548.1999999999999" r="0.8" fill="#111"/>
<circle cx="529.1" cy="603.5" r="41.8" fill="none" stroke="#111" stroke-width="1.1"/>
<circle cx="529.1" cy="603.5" r="37.6" fill="#000"/>
<circle cx="529.1" cy="603.5" r="5.3" fill="#fff"/>
<circle cx="497.5" cy="571.5" r="1.4" fill="#111"/>
<circle cx="494.90000000000003" cy="569.1" r="0.8" fill="#111"/>
<circle cx="560.7" cy="571.5" r="1.4" fill="#111"/>
<circle cx="563.3000000000001" cy="569.1" r="0.8" fill="#111"/>
<circle cx="497.5" cy="635.5" r="1.4" fill="#111"/>
<circle cx="494.90000000000003" cy="637.9" r="0.8" fill="#111"/>
<circle cx="560.7" cy="635.5" r="1.4" fill="#111"/>
<circle cx="563.3000000000001" cy="637.9" r="0.8" fill="#111"/>
<circle cx="621" cy="603.5" r="41.8" fill="none" stroke="#111" stroke-width="1.1"/>
<circle cx="621" cy="603.5" r="37.6" fill="#000"/>
<circle cx="621" cy="603.5" r="5.3" fill="#fff"/>
<circle cx="589.4" cy="571.5" r="1.4" fill="#111"/>
<circle cx="586.8" cy="569.1" r="0.8" fill="#111"/>
<circle cx="652.6" cy="571.5" r="1.4" fill="#111"/>
<circle cx="655.2" cy="569.1" r="0.8" fill="#111"/>
<circle cx="589.4" cy="635.5" r="1.4" fill="#111"/>
<circle cx="586.8" cy="637.9" r="0.8" fill="#111"/>
<circle cx="652.6" cy="635.5" r="1.4" fill="#111"/>
<circle cx="655.2" cy="637.9" r="0.8" fill="#111"/>
<circle cx="712.4" cy="557.9" r="41.8" fill="none" stroke="#111" stroke-width="1.1"/>
<circle cx="712.4" cy="557.9" r="37.6" fill="#000"/>
<circle cx="712.4" cy="557.9" r="5.3" fill="#fff"/>
<circle cx="680.8" cy="525.9" r="1.4" fill="#111"/>
<circle cx="678.1999999999999" cy="523.5" r="0.8" fill="#111"/>
<circle cx="744.0" cy="525.9" r="1.4" fill="#111"/>
<circle cx="746.6" cy="523.5" r="0.8" fill="#111"/>
<circle cx="680.8" cy="589.9" r="1.4" fill="#111"/>
<circle cx="678.1999999999999" cy="592.3" r="0.8" fill="#111"/>
<circle cx="744.0" cy="589.9" r="1.4" fill="#111"/>
<circle cx="746.6" cy="592.3" r="0.8" fill="#111"/>
<circle cx="804" cy="513.6" r="41.8" fill="none" stroke="#111" stroke-width="1.1"/>
<circle cx="804" cy="513.6" r="37.6" fill="#000"/>
<circle cx="804" cy="513.6" r="5.3" fill="#fff"/>
<circle cx="772.4" cy="481.6" r="1.4" fill="#111"/>
<circle cx="769.8" cy="479.20000000000005" r="0.8" fill="#111"/>
<circle cx="835.6" cy="481.6" r="1.4" fill="#111"/>
<circle cx="838.2" cy="479.20000000000005" r="0.8" fill="#111"/>
<circle cx="772.4" cy="545.6" r="1.4" fill="#111"/>
<circle cx="769.8" cy="548.0" r="0.8" fill="#111"/>
<circle cx="835.6" cy="545.6" r="1.4" fill="#111"/>
<circle cx="838.2" cy="548.0" r="0.8" fill="#111"/>
<circle cx="804" cy="603.6" r="41.8" fill="none" stroke="#111" stroke-width="1.1"/>
<circle cx="804" cy="603.6" r="37.6" fill="#000"/>
<circle cx="804" cy="603.6" r="5.3" fill="#fff"/>
<circle cx="772.4" cy="571.6" r="1.4" fill="#111"/>
<circle cx="769.8" cy="569.2" r="0.8" fill="#111"/>
<circle cx="835.6" cy="571.6" r="1.4" fill="#111"/>
<circle cx="838.2" cy="569.2" r="0.8" fill="#111"/>
<circle cx="772.4" cy="635.6" r="1.4" fill="#111"/>
<circle cx="769.8" cy="638.0" r="0.8" fill="#111"/>
<circle cx="835.6" cy="635.6" r="1.4" fill="#111"/>
<circle cx="838.2" cy="638.0" r="0.8" fill="#111"/>
<rect x="495.56" y="467.5" width="2.4" height="1.5" fill="#111"/>
<rect x="495.56" y="648" width="2.4" height="1.5" fill="#111"/>
<rect x="527.8999999999999" y="467.5" width="2.4" height="1.5" fill="#111"/>
<rect x="527.8999999999999" y="648" width="2.4" height="1.5" fill="#111"/>
<rect x="560.2399999999999" y="467.5" width="2.4" height="1.5" fill="#111"/>
<rect x="560.2399999999999" y="648" width="2.4" height="1.5" fill="#111"/>
<rect x="587.8399999999999" y="467.5" width="2.4" height="1.5" fill="#111"/>
<rect x="587.8399999999999" y="648" width="2.4" height="1.5" fill="#111"/>
<rect x="619.8999999999999" y="467.5" width="2.4" height="1.5" fill="#111"/>
<rect x="619.8999999999999" y="648" width="2.4" height="1.5" fill="#111"/>
<rect x="651.9599999999999" y="467.5" width="2.4" height="1.5" fill="#111"/>
<rect x="651.9599999999999" y="648" width="2.4" height="1.5" fill="#111"/>
<rect x="771.2499999999999" y="467.5" width="2.4" height="1.5" fill="#111"/>
<rect x="771.2499999999999" y="648" width="2.4" height="1.5" fill="#111"/>
<rect x="803.0999999999999" y="467.5" width="2.4" height="1.5" fill="#111"/>
<rect x="803.0999999999999" y="648" width="2.4" height="1.5" fill="#111"/>
<rect x="834.9499999999999" y="467.5" width="2.4" height="1.5" fill="#111"/>
<rect x="834.9499999999999" y="648" width="2.4" height="1.5" fill="#111"/>
<line x1="461.6" y1="449.6" x2="804" y2="449.6" stroke="#111" stroke-width="0.9" shape-rendering="crispEdges"/>
<polygon points="461.6,449.6 466.6,448.0 466.6,451.20000000000005" fill="#111"/>
<polygon points="529.1,449.6 524.1,448.0 524.1,451.20000000000005" fill="#111"/>
<polygon points="529.1,449.6 534.1,448.0 534.1,451.20000000000005" fill="#111"/>
<polygon points="621,449.6 616,448.0 616,451.20000000000005" fill="#111"/>
<polygon points="621,449.6 626,448.0 626,451.20000000000005" fill="#111"/>
<polygon points="712.4,449.6 707.4,448.0 707.4,451.20000000000005" fill="#111"/>
<polygon points="712.4,449.6 717.4,448.0 717.4,451.20000000000005" fill="#111"/>
<polygon points="804,449.6 799,448.0 799,451.20000000000005" fill="#111"/>
<line x1="461.6" y1="446" x2="461.6" y2="466" stroke="#111" stroke-width="0.8" shape-rendering="crispEdges"/>
<line x1="529.1" y1="449.6" x2="529.1" y2="476" stroke="#111" stroke-width="0.8" shape-rendering="crispEdges"/>
<line x1="621" y1="449.6" x2="621" y2="476" stroke="#111" stroke-width="0.8" shape-rendering="crispEdges"/>
<line x1="804" y1="449.6" x2="804" y2="476" stroke="#111" stroke-width="0.8" shape-rendering="crispEdges"/>
<line x1="712.4" y1="449.6" x2="712.4" y2="516" stroke="#111" stroke-width="0.8" shape-rendering="crispEdges"/>
<rect x="485.3" y="444" width="20" height="11" fill="#fff"/>
<text transform="scale(0.74,1)" x="669.32" y="453.6" font-size="11" fill="#111" text-anchor="middle" font-family="Liberation Sans" textLength="21.62" lengthAdjust="spacing">818</text>
<rect x="562.35" y="444" width="25.3" height="11" fill="#fff"/>
<text transform="scale(0.74,1)" x="777.03" y="453.6" font-size="11" fill="#111" text-anchor="middle" font-family="Liberation Sans" textLength="28.78" lengthAdjust="spacing">1118</text>
<rect x="653.85" y="444" width="25.3" height="11" fill="#fff"/>
<text transform="scale(0.74,1)" x="900.68" y="453.6" font-size="11" fill="#111" text-anchor="middle" font-family="Liberation Sans" textLength="28.78" lengthAdjust="spacing">1116</text>
<rect x="745.85" y="444" width="25.3" height="11" fill="#fff"/>
<text transform="scale(0.74,1)" x="1025.0" y="453.6" font-size="11" fill="#111" text-anchor="middle" font-family="Liberation Sans" textLength="28.78" lengthAdjust="spacing">1117</text>
<line x1="852.7" y1="466.8" x2="906" y2="466.8" stroke="#111" stroke-width="0.8" shape-rendering="crispEdges"/>
<line x1="849.8" y1="557.9" x2="876" y2="557.9" stroke="#111" stroke-width="0.8" shape-rendering="crispEdges"/>
<line x1="846" y1="513.6" x2="906" y2="513.6" stroke="#111" stroke-width="0.8" shape-rendering="crispEdges"/>
<line x1="846" y1="603.6" x2="906" y2="603.6" stroke="#111" stroke-width="0.8" shape-rendering="crispEdges"/>
<line x1="875.8" y1="466.8" x2="875.8" y2="557.9" stroke="#111" stroke-width="0.9" shape-rendering="crispEdges"/>
<polygon points="875.8,466.8 874.1999999999999,471.8 877.4,471.8" fill="#111"/>
<polygon points="875.8,557.9 874.1999999999999,552.9 877.4,552.9" fill="#111"/>
<rect x="864" y="508" width="24" height="11" fill="#fff"/>
<text transform="scale(0.74,1)" x="1183.51" y="517.6" font-size="11" fill="#111" text-anchor="middle" font-family="Liberation Sans" textLength="29.73" lengthAdjust="spacing">1110</text>
<line x1="904.3" y1="466.8" x2="904.3" y2="603.6" stroke="#111" stroke-width="0.9" shape-rendering="crispEdges"/>
<polygon points="904.3,466.8 902.6999999999999,471.8 905.9,471.8" fill="#111"/>
<polygon points="904.3,513.6 902.6999999999999,508.6 905.9,508.6" fill="#111"/>
<polygon points="904.3,513.6 902.6999999999999,518.6 905.9,518.6" fill="#111"/>
<polygon points="904.3,603.6 902.6999999999999,598.6 905.9,598.6" fill="#111"/>
<rect x="894" y="484" width="20" height="11" fill="#fff"/>
<text transform="scale(0.74,1)" x="1222.03" y="494" font-size="11" fill="#111" text-anchor="middle" font-family="Liberation Sans" textLength="22.16" lengthAdjust="spacing">573</text>
<rect x="892" y="553" width="24" height="11" fill="#fff"/>
<text transform="scale(0.74,1)" x="1222.03" y="562.7" font-size="11" fill="#111" text-anchor="middle" font-family="Liberation Sans" textLength="29.73" lengthAdjust="spacing">1097</text>
<line x1="172" y1="429.2" x2="356" y2="429.2" stroke="#111" stroke-width="0.9" shape-rendering="crispEdges"/>
<polygon points="172,429.2 177,427.59999999999997 177,430.8" fill="#111"/>
<polygon points="356,429.2 351,427.59999999999997 351,430.8" fill="#111"/>
<rect x="251.4" y="424.7" width="25.2" height="9" fill="#fff"/>
<text transform="scale(0.74,1)" x="356.76" y="433.2" font-size="11" fill="#111" text-anchor="middle" font-family="Liberation Sans" textLength="28.65" lengthAdjust="spacing">2242</text>
<line x1="172" y1="446.4" x2="228.5" y2="446.4" stroke="#111" stroke-width="0.9" shape-rendering="crispEdges"/>
<polygon points="172,446.4 177,444.79999999999995 177,448.0" fill="#111"/>
<polygon points="228.5,446.4 223.5,444.79999999999995 223.5,448.0" fill="#111"/>
<rect x="190.7" y="441.9" width="19.8" height="9" fill="#fff"/>
<text transform="scale(0.74,1)" x="271.08" y="450.4" font-size="11" fill="#111" text-anchor="middle" font-family="Liberation Sans" textLength="21.35" lengthAdjust="spacing">693</text>
<line x1="172" y1="429" x2="172" y2="478" stroke="#111" stroke-width="0.8" shape-rendering="crispEdges"/>
<line x1="356" y1="429" x2="356" y2="478" stroke="#111" stroke-width="0.8" shape-rendering="crispEdges"/>
<line x1="228.5" y1="446.4" x2="228.5" y2="527" stroke="#111" stroke-width="0.8" shape-rendering="crispEdges"/>
<path d="M181.3,479 L181.3,469 Q181.3,466.8 183.5,466.8 L345.2,466.8 Q347.4,466.8 347.4,469 L347.4,479" stroke="#111" stroke-width="1.7" fill="none"/>
<line x1="181.3" y1="475" x2="347.4" y2="475" stroke="#111" stroke-width="0.8" shape-rendering="crispEdges"/>
<line x1="181.3" y1="477.3" x2="347.4" y2="477.3" stroke="#111" stroke-width="0.7" shape-rendering="crispEdges"/>
<line x1="256.4" y1="466.8" x2="256.4" y2="479" stroke="#111" stroke-width="0.9" shape-rendering="crispEdges"/>
<line x1="271.8" y1="466.8" x2="271.8" y2="479" stroke="#111" stroke-width="0.9" shape-rendering="crispEdges"/>
<circle cx="192" cy="469" r="0.9" fill="#111"/>
<circle cx="218" cy="469" r="0.9" fill="#111"/>
<circle cx="245" cy="469" r="0.9" fill="#111"/>
<circle cx="263" cy="469" r="0.9" fill="#111"/>
<circle cx="283" cy="469" r="0.9" fill="#111"/>
<circle cx="309" cy="469" r="0.9" fill="#111"/>
<circle cx="336" cy="469" r="0.9" fill="#111"/>
<line x1="171.5" y1="479.3" x2="356.3" y2="479.3" stroke="#111" stroke-width="1.8" shape-rendering="crispEdges"/>
<line x1="171.5" y1="479.3" x2="171.5" y2="663.5" stroke="#111" stroke-width="1.6" shape-rendering="crispEdges"/>
<line x1="178" y1="479.3" x2="178" y2="663.5" stroke="#111" stroke-width="1.3" shape-rendering="crispEdges"/>
<line x1="356.3" y1="479.3" x2="356.3" y2="663.5" stroke="#111" stroke-width="1.6" shape-rendering="crispEdges"/>
<line x1="350" y1="479.3" x2="350" y2="663.5" stroke="#111" stroke-width="1.3" shape-rendering="crispEdges"/>
<circle cx="175" cy="506" r="0.8" fill="#111"/>
<circle cx="353" cy="506" r="0.8" fill="#111"/>
<circle cx="175" cy="565" r="0.8" fill="#111"/>
<circle cx="353" cy="565" r="0.8" fill="#111"/>
<circle cx="175" cy="590" r="0.8" fill="#111"/>
<circle cx="353" cy="590" r="0.8" fill="#111"/>
<circle cx="175" cy="610" r="0.8" fill="#111"/>
<circle cx="353" cy="610" r="0.8" fill="#111"/>
<circle cx="175" cy="640" r="0.8" fill="#111"/>
<circle cx="353" cy="640" r="0.8" fill="#111"/>
<rect x="180.5" y="481" width="166.5" height="29.5" fill="none" stroke="#111" stroke-width="1.0" rx="0" shape-rendering="crispEdges"/>
<rect x="182.8" y="482.6" width="8.4" height="26.6" fill="#0a0a0a"/>
<rect x="192.97" y="482.6" width="8.4" height="26.6" fill="#0a0a0a"/>
<rect x="203.14000000000001" y="482.6" width="8.4" height="26.6" fill="#0a0a0a"/>
<rect x="213.31" y="482.6" width="8.4" height="26.6" fill="#0a0a0a"/>
<rect x="223.48000000000002" y="482.6" width="8.4" height="26.6" fill="#0a0a0a"/>
<rect x="233.65" y="482.6" width="8.4" height="26.6" fill="#0a0a0a"/>
<rect x="243.82" y="482.6" width="8.4" height="26.6" fill="#0a0a0a"/>
<rect x="253.99" y="482.6" width="8.4" height="26.6" fill="#0a0a0a"/>
<rect x="264.16" y="482.6" width="8.4" height="26.6" fill="#0a0a0a"/>
<rect x="274.33000000000004" y="482.6" width="8.4" height="26.6" fill="#0a0a0a"/>
<rect x="284.5" y="482.6" width="8.4" height="26.6" fill="#0a0a0a"/>
<rect x="294.67" y="482.6" width="8.4" height="26.6" fill="#0a0a0a"/>
<rect x="304.84000000000003" y="482.6" width="8.4" height="26.6" fill="#0a0a0a"/>
<rect x="315.01" y="482.6" width="8.4" height="26.6" fill="#0a0a0a"/>
<rect x="325.18" y="482.6" width="8.4" height="26.6" fill="#0a0a0a"/>
<rect x="335.35" y="482.6" width="8.4" height="26.6" fill="#0a0a0a"/>
<line x1="178" y1="512" x2="350" y2="512" stroke="#111" stroke-width="1.6" shape-rendering="crispEdges"/>
<line x1="178" y1="565.7" x2="350" y2="565.7" stroke="#111" stroke-width="1.4" shape-rendering="crispEdges"/>
<line x1="247.8" y1="512" x2="247.8" y2="565.7" stroke="#111" stroke-width="1.5" shape-rendering="crispEdges"/>
<line x1="249.8" y1="512" x2="249.8" y2="565.7" stroke="#111" stroke-width="0.7" shape-rendering="crispEdges"/>
<line x1="317" y1="512" x2="317" y2="565.7" stroke="#111" stroke-width="1.5" shape-rendering="crispEdges"/>
<line x1="319" y1="512" x2="319" y2="565.7" stroke="#111" stroke-width="0.7" shape-rendering="crispEdges"/>
<circle cx="243" cy="519.8" r="1.5" fill="#111"/>
<circle cx="252.6" cy="519.8" r="1.5" fill="#111"/>
<circle cx="323" cy="519.8" r="1.5" fill="#111"/>
<circle cx="243" cy="561" r="1.5" fill="#111"/>
<circle cx="252.6" cy="561" r="1.5" fill="#111"/>
<circle cx="323" cy="561" r="1.5" fill="#111"/>
<circle cx="182" cy="516" r="0.8" fill="#111"/>
<circle cx="284" cy="516" r="0.8" fill="#111"/>
<circle cx="305" cy="516" r="0.8" fill="#111"/>
<circle cx="340" cy="516" r="0.8" fill="#111"/>
<rect x="229" y="529" width="5" height="6" fill="#111"/>
<rect x="230.5" y="535" width="2" height="2" fill="#111"/>
<rect x="255" y="529.5" width="5.5" height="6" fill="none" stroke="#111" stroke-width="1.1" rx="0" shape-rendering="crispEdges"/>
<line x1="257.7" y1="530" x2="257.7" y2="535" stroke="#111" stroke-width="0.9" shape-rendering="crispEdges"/>
<line x1="255.5" y1="532.7" x2="260" y2="532.7" stroke="#111" stroke-width="0.9" shape-rendering="crispEdges"/>
<line x1="178" y1="567.5" x2="350" y2="567.5" stroke="#111" stroke-width="1.1" shape-rendering="crispEdges"/>
<line x1="178" y1="574.5" x2="350" y2="574.5" stroke="#111" stroke-width="1.8" shape-rendering="crispEdges"/>
<line x1="178" y1="578.8" x2="350" y2="578.8" stroke="#111" stroke-width="1.2" shape-rendering="crispEdges"/>
<line x1="180" y1="571" x2="348" y2="571" stroke="#555" stroke-width="1.2" stroke-dasharray="6 2"/>
<path d="M178,589 L191.7,576 L209,576 L178,606.3" stroke="#111" stroke-width="1.4" fill="#fff"/>
<path d="M319.3,576 L336.7,576 L349.7,590.4 L349.7,603.4 Z" stroke="#111" stroke-width="1.4" fill="#fff"/>
<circle cx="200" cy="582" r="0.8" fill="#111"/>
<circle cx="331" cy="582" r="0.8" fill="#111"/>
<path d="M297.6,601.2 L349.7,636.7 M298,606 L347,640" stroke="#111" stroke-width="1.2" fill="none"/>
<path d="M307.8,636.7 L341,600.5 M312,640 L344,604" stroke="#111" stroke-width="1.2" fill="none"/>
<rect x="328.7" y="589" width="5.8" height="63.6" fill="#fff" stroke="#111" stroke-width="1.3" rx="0" shape-rendering="crispEdges"/>
<path d="M286,591 L328,591 M286,599 L328,599" stroke="#111" stroke-width="1.2" fill="none"/>
<path d="M305,589 L305,601 M319,589 L319,601 M308,592 L315,598 L312,605 M315,592 L308,598" stroke="#111" stroke-width="1.2" fill="none"/>
<path d="M187.4,600 Q200,588 214.1,598 L214.1,646.8 L188,646.8 Z" stroke="#111" stroke-width="1.4" fill="#fff"/>
<line x1="187.8" y1="600.5" x2="214" y2="600.5" stroke="#111" stroke-width="1.2" shape-rendering="crispEdges"/>
<line x1="191.7" y1="600.5" x2="191.7" y2="646.8" stroke="#111" stroke-width="0.9" shape-rendering="crispEdges"/>
<rect x="184.5" y="610.6" width="3.5" height="17.4" fill="none" stroke="#111" stroke-width="1.2" rx="0" shape-rendering="crispEdges"/>
<path d="M180,641 L187,641 M180,644 L187,644" stroke="#111" stroke-width="1" fill="none"/>
<line x1="187" y1="650" x2="216" y2="650" stroke="#111" stroke-width="1.3" shape-rendering="crispEdges"/>
<rect x="188" y="651" width="6" height="2" fill="#111"/>
<rect x="206" y="651" width="6" height="2" fill="#111"/>
<path d="M222,648 L222,606.3 Q222,597 232.2,597 L270,593.3 M227.8,648 L227.8,608 Q227.8,602.5 233.5,602.5 L270,599" stroke="#111" stroke-width="1.5" fill="none"/>
<line x1="224.9" y1="606" x2="224.9" y2="646" stroke="#111" stroke-width="0.6" shape-rendering="crispEdges"/>
<path d="M216.3,618 L225,618 M216.3,624 L222,624" stroke="#111" stroke-width="1.1" fill="none"/>
<path d="M216,630 L222,648 M216,636 L221,650" stroke="#111" stroke-width="0.9" fill="none"/>
<path d="M232,594 L238,586 L242,590 L247,584 M236,590 L262,584" stroke="#111" stroke-width="1.1" fill="none"/>
<path d="M252,585 Q258,580 265,586 Q262,592 254,590 Z" stroke="#111" stroke-width="1.2" fill="none"/>
<rect x="259" y="578" width="20" height="5" fill="none" stroke="#111" stroke-width="1.1" rx="0" shape-rendering="crispEdges"/>
<rect x="262" y="579" width="3" height="3" fill="#111"/>
<rect x="268" y="579" width="3" height="3" fill="#111"/>
<rect x="274" y="579" width="3" height="3" fill="#111"/>
<path d="M242.4,600 L242.4,623 Q242.4,625.8 245,625.8 L261,625.8 M244.5,600 L244.5,621.5 Q244.5,623.6 247,623.6 L261,623.6" stroke="#111" stroke-width="1.1" fill="none"/>
<line x1="262" y1="625.8" x2="262" y2="638" stroke="#111" stroke-width="2.2" shape-rendering="crispEdges"/>
<line x1="260" y1="630" x2="264" y2="630" stroke="#111" stroke-width="1" shape-rendering="crispEdges"/>
<line x1="271.6" y1="596" x2="271.6" y2="649.7" stroke="#111" stroke-width="1.2" shape-rendering="crispEdges"/>
<line x1="274.5" y1="596" x2="274.5" y2="649.7" stroke="#111" stroke-width="1.2" shape-rendering="crispEdges"/>
<path d="M299,584.6 L280.3,623.7 M301.5,586 L282.8,625" stroke="#111" stroke-width="1.1" fill="none"/>
<line x1="280.3" y1="623.7" x2="280.3" y2="638" stroke="#111" stroke-width="2" shape-rendering="crispEdges"/>
<rect x="262" y="612" width="8" height="12" fill="none" stroke="#111" stroke-width="1" rx="0" shape-rendering="crispEdges"/>
<circle cx="261.4" cy="644.7" r="5.8" fill="#fff" stroke="#111" stroke-width="1.5"/>
<circle cx="267.0" cy="644.7" r="1.1" fill="#111"/>
<circle cx="264.2" cy="649.5497422611929" r="1.1" fill="#111"/>
<circle cx="258.59999999999997" cy="649.5497422611929" r="1.1" fill="#111"/>
<circle cx="255.79999999999998" cy="644.7" r="1.1" fill="#111"/>
<circle cx="258.59999999999997" cy="639.8502577388072" r="1.1" fill="#111"/>
<circle cx="264.2" cy="639.8502577388072" r="1.1" fill="#111"/>
<line x1="254.39999999999998" y1="651" x2="268.4" y2="651" stroke="#111" stroke-width="1.3" shape-rendering="crispEdges"/>
<circle cx="280.3" cy="644.7" r="5.8" fill="#fff" stroke="#111" stroke-width="1.5"/>
<circle cx="285.90000000000003" cy="644.7" r="1.1" fill="#111"/>
<circle cx="283.1" cy="649.5497422611929" r="1.1" fill="#111"/>
<circle cx="277.5" cy="649.5497422611929" r="1.1" fill="#111"/>
<circle cx="274.7" cy="644.7" r="1.1" fill="#111"/>
<circle cx="277.5" cy="639.8502577388072" r="1.1" fill="#111"/>
<circle cx="283.1" cy="639.8502577388072" r="1.1" fill="#111"/>
<line x1="273.3" y1="651" x2="287.3" y2="651" stroke="#111" stroke-width="1.3" shape-rendering="crispEdges"/>
<rect x="299" y="627" width="8" height="5" fill="none" stroke="#111" stroke-width="1.1" rx="0" shape-rendering="crispEdges"/>
<line x1="303" y1="632" x2="303" y2="636" stroke="#111" stroke-width="1.5" shape-rendering="crispEdges"/>
<line x1="286" y1="638" x2="341" y2="638" stroke="#111" stroke-width="1.1" shape-rendering="crispEdges"/>
<line x1="283" y1="649" x2="333" y2="649" stroke="#111" stroke-width="0.9" shape-rendering="crispEdges"/>
<line x1="178" y1="652.6" x2="350" y2="652.6" stroke="#111" stroke-width="1.6" shape-rendering="crispEdges"/>
<line x1="178" y1="654.8" x2="350" y2="654.8" stroke="#111" stroke-width="0.8" shape-rendering="crispEdges"/>
<line x1="171.5" y1="658.4" x2="356.3" y2="658.4" stroke="#111" stroke-width="1.1" shape-rendering="crispEdges"/>
<line x1="171.5" y1="662.5" x2="356.3" y2="662.5" stroke="#111" stroke-width="1.8" shape-rendering="crispEdges"/>
<circle cx="185" cy="656.6" r="0.8" fill="#111"/>
<circle cx="203" cy="656.6" r="0.8" fill="#111"/>
<circle cx="230" cy="656.6" r="0.8" fill="#111"/>
<circle cx="248" cy="656.6" r="0.8" fill="#111"/>
<circle cx="258" cy="656.6" r="0.8" fill="#111"/>
<circle cx="266" cy="656.6" r="0.8" fill="#111"/>
<circle cx="275" cy="656.6" r="0.8" fill="#111"/>
<circle cx="296" cy="656.6" r="0.8" fill="#111"/>
<circle cx="305" cy="656.6" r="0.8" fill="#111"/>
<circle cx="320" cy="656.6" r="0.8" fill="#111"/>
<circle cx="342" cy="656.6" r="0.8" fill="#111"/>
<circle cx="174" cy="655" r="0.9" fill="#111"/>
<circle cx="174" cy="659" r="0.9" fill="#111"/>
<circle cx="353" cy="655" r="0.9" fill="#111"/>
<circle cx="353" cy="659" r="0.9" fill="#111"/>
<line x1="130" y1="466.8" x2="179" y2="466.8" stroke="#111" stroke-width="0.8" shape-rendering="crispEdges"/>
<line x1="131.5" y1="466.8" x2="131.5" y2="663.5" stroke="#111" stroke-width="0.9" shape-rendering="crispEdges"/>
<polygon points="131.5,466.8 129.9,471.8 133.1,471.8" fill="#111"/>
<polygon points="131.5,663.5 129.9,658.5 133.1,658.5" fill="#111"/>
<rect x="119.1" y="560" width="24.8" height="10" fill="#fff"/>
<text transform="scale(0.74,1)" x="177.7" y="569" font-size="11" fill="#111" text-anchor="middle" font-family="Liberation Sans" textLength="28.11" lengthAdjust="spacing">2393</text>
<line x1="146.7" y1="565.7" x2="176" y2="565.7" stroke="#111" stroke-width="0.8" shape-rendering="crispEdges"/>
<line x1="153.5" y1="565.7" x2="153.5" y2="663.5" stroke="#111" stroke-width="0.9" shape-rendering="crispEdges"/>
<polygon points="153.5,565.7 151.9,570.7 155.1,570.7" fill="#111"/>
<polygon points="153.5,663.5 151.9,658.5 155.1,658.5" fill="#111"/>
<rect x="141.1" y="610" width="24.8" height="10" fill="#fff"/>
<text transform="scale(0.74,1)" x="207.43" y="619" font-size="11" fill="#111" text-anchor="middle" font-family="Liberation Sans" textLength="28.11" lengthAdjust="spacing">1187</text>
<line x1="130" y1="663.5" x2="172" y2="663.5" stroke="#111" stroke-width="0.8" shape-rendering="crispEdges"/>
<path d="M344.7,603.6 L364,589 L369,589" stroke="#111" stroke-width="0.9" fill="none"/>
<text x="369" y="593.8" font-size="11.5" fill="#111" text-anchor="start" font-family="Liberation Sans" textLength="50" lengthAdjust="spacingAndGlyphs" stroke="#111" stroke-width="0.35">机组进水口</text>
<path d="M344.7,645 L364,636.6 L369,636.6" stroke="#111" stroke-width="0.9" fill="none"/>
<text x="369" y="641.8" font-size="11.5" fill="#111" text-anchor="start" font-family="Liberation Sans" textLength="50" lengthAdjust="spacingAndGlyphs" stroke="#111" stroke-width="0.35">机组出水口</text>
<circle cx="344.7" cy="603.6" r="1.8" fill="#111"/>
<circle cx="344.7" cy="645" r="1.3" fill="#111"/>
<line x1="344" y1="628" x2="344" y2="650" stroke="#111" stroke-width="1.8" shape-rendering="crispEdges"/>
<line x1="344.7" y1="645" x2="344.7" y2="680" stroke="#111" stroke-width="0.8" shape-rendering="crispEdges"/>
<line x1="355.7" y1="664" x2="355.7" y2="680" stroke="#111" stroke-width="0.8" shape-rendering="crispEdges"/>
<line x1="334" y1="673" x2="344.7" y2="673" stroke="#111" stroke-width="0.9" shape-rendering="crispEdges"/>
<polygon points="344.7,673 339.7,671.4 339.7,674.6" fill="#111"/>
<line x1="355.7" y1="673" x2="368" y2="673" stroke="#111" stroke-width="0.9" shape-rendering="crispEdges"/>
<polygon points="355.7,673 360.7,671.4 360.7,674.6" fill="#111"/>
<text transform="scale(0.74,1)" x="514.86" y="677" font-size="11" fill="#111" text-anchor="middle" font-family="Liberation Sans" textLength="21.49" lengthAdjust="spacing">143</text>
<line x1="1005.4" y1="161.6" x2="1086.8" y2="161.6" stroke="#111" stroke-width="0.9" shape-rendering="crispEdges"/>
<polygon points="1005.4,161.6 1010.4,160.0 1010.4,163.2" fill="#111"/>
<polygon points="1086.8,161.6 1081.8,160.0 1081.8,163.2" fill="#111"/>
<rect x="1036.25" y="157.1" width="19.9" height="9" fill="#fff"/>
<text transform="scale(0.74,1)" x="1413.78" y="165.6" font-size="11" fill="#111" text-anchor="middle" font-family="Liberation Sans" textLength="21.49" lengthAdjust="spacing">978</text>
<line x1="1005.4" y1="182" x2="1058.5" y2="182" stroke="#111" stroke-width="0.9" shape-rendering="crispEdges"/>
<polygon points="1005.4,182 1010.4,180.4 1010.4,183.6" fill="#111"/>
<polygon points="1058.5,182 1053.5,180.4 1053.5,183.6" fill="#111"/>
<rect x="1021.8499999999999" y="177.5" width="19.9" height="9" fill="#fff"/>
<text transform="scale(0.74,1)" x="1394.32" y="186" font-size="11" fill="#111" text-anchor="middle" font-family="Liberation Sans" textLength="21.49" lengthAdjust="spacing">635</text>
<line x1="1005.4" y1="161.6" x2="1005.4" y2="214" stroke="#111" stroke-width="0.8" shape-rendering="crispEdges"/>
<line x1="1058.5" y1="182" x2="1058.5" y2="214" stroke="#111" stroke-width="0.8" shape-rendering="crispEdges"/>
<line x1="1086.8" y1="161.6" x2="1086.8" y2="214" stroke="#111" stroke-width="0.8" shape-rendering="crispEdges"/>
<path d="M1088.2,214.4 L1115,188.4 L1119,188.4" stroke="#111" stroke-width="0.9" fill="none"/>
<text x="1119.8" y="193.6" font-size="12.5" fill="#111" text-anchor="start" font-family="Liberation Sans" textLength="58.6" lengthAdjust="spacingAndGlyphs" stroke="#111" stroke-width="0.35">电源线进线孔</text>
<line x1="1005.9" y1="214.4" x2="1005.9" y2="605.2" stroke="#111" stroke-width="1.8" shape-rendering="crispEdges"/>
<line x1="1011.8" y1="214.4" x2="1011.8" y2="605.2" stroke="#111" stroke-width="1.3" shape-rendering="crispEdges"/>
<line x1="1190.3" y1="214.4" x2="1190.3" y2="605.2" stroke="#111" stroke-width="1.8" shape-rendering="crispEdges"/>
<line x1="1184.8" y1="233" x2="1184.8" y2="605.2" stroke="#111" stroke-width="1.3" shape-rendering="crispEdges"/>
<line x1="1008.8" y1="236" x2="1008.8" y2="603" stroke="#111" stroke-width="0.5" shape-rendering="crispEdges"/>
<circle cx="1187.6" cy="240" r="0.7" fill="#111"/>
<circle cx="1008.8" cy="240" r="0.6" fill="#111"/>
<circle cx="1187.6" cy="264" r="0.7" fill="#111"/>
<circle cx="1008.8" cy="264" r="0.6" fill="#111"/>
<circle cx="1187.6" cy="288" r="0.7" fill="#111"/>
<circle cx="1008.8" cy="288" r="0.6" fill="#111"/>
<circle cx="1187.6" cy="312" r="0.7" fill="#111"/>
<circle cx="1008.8" cy="312" r="0.6" fill="#111"/>
<circle cx="1187.6" cy="336" r="0.7" fill="#111"/>
<circle cx="1008.8" cy="336" r="0.6" fill="#111"/>
<circle cx="1187.6" cy="360" r="0.7" fill="#111"/>
<circle cx="1008.8" cy="360" r="0.6" fill="#111"/>
<circle cx="1187.6" cy="384" r="0.7" fill="#111"/>
<circle cx="1008.8" cy="384" r="0.6" fill="#111"/>
<circle cx="1187.6" cy="408" r="0.7" fill="#111"/>
<circle cx="1008.8" cy="408" r="0.6" fill="#111"/>
<circle cx="1187.6" cy="432" r="0.7" fill="#111"/>
<circle cx="1008.8" cy="432" r="0.6" fill="#111"/>
<circle cx="1187.6" cy="456" r="0.7" fill="#111"/>
<circle cx="1008.8" cy="456" r="0.6" fill="#111"/>
<circle cx="1187.6" cy="480" r="0.7" fill="#111"/>
<circle cx="1008.8" cy="480" r="0.6" fill="#111"/>
<circle cx="1187.6" cy="504" r="0.7" fill="#111"/>
<circle cx="1008.8" cy="504" r="0.6" fill="#111"/>
<circle cx="1187.6" cy="528" r="0.7" fill="#111"/>
<circle cx="1008.8" cy="528" r="0.6" fill="#111"/>
<circle cx="1187.6" cy="552" r="0.7" fill="#111"/>
<circle cx="1008.8" cy="552" r="0.6" fill="#111"/>
<circle cx="1187.6" cy="576" r="0.7" fill="#111"/>
<circle cx="1008.8" cy="576" r="0.6" fill="#111"/>
<rect x="1184.5" y="214" width="6" height="4" fill="#111"/>
<line x1="1012" y1="214.4" x2="1183.5" y2="214.4" stroke="#111" stroke-width="2.8" shape-rendering="crispEdges"/>
<line x1="1012" y1="217" x2="1183.5" y2="217" stroke="#111" stroke-width="0.8" shape-rendering="crispEdges"/>
<rect x="1012" y="214.4" width="171.5" height="19.2" fill="none" stroke="#111" stroke-width="1.5" rx="0" shape-rendering="crispEdges"/>
<circle cx="1019" cy="223" r="1.4" fill="none" stroke="#111" stroke-width="0.9"/>
<circle cx="1019" cy="228.5" r="1.4" fill="none" stroke="#111" stroke-width="0.9"/>
<circle cx="1053" cy="223" r="1.4" fill="none" stroke="#111" stroke-width="0.9"/>
<circle cx="1053" cy="228.5" r="1.4" fill="none" stroke="#111" stroke-width="0.9"/>
<circle cx="1102" cy="223" r="1.4" fill="none" stroke="#111" stroke-width="0.9"/>
<circle cx="1102" cy="228.5" r="1.4" fill="none" stroke="#111" stroke-width="0.9"/>
<circle cx="1025" cy="223" r="1.1" fill="#111"/>
<circle cx="1028" cy="222" r="1.1" fill="#111"/>
<circle cx="1027" cy="228" r="1.1" fill="#111"/>
<rect x="1033" y="221.5" width="16" height="10" fill="none" stroke="#111" stroke-width="1.2" rx="0" shape-rendering="crispEdges"/>
<circle cx="1037" cy="225" r="1.6" fill="none" stroke="#111" stroke-width="0.9"/>
<circle cx="1041.5" cy="228.5" r="1.6" fill="none" stroke="#111" stroke-width="0.9"/>
<circle cx="1046" cy="225" r="1.6" fill="none" stroke="#111" stroke-width="0.9"/>
<line x1="1030" y1="218.5" x2="1048" y2="218.5" stroke="#111" stroke-width="1.6" shape-rendering="crispEdges"/>
<circle cx="1063" cy="222.5" r="3.6" fill="none" stroke="#111" stroke-width="1.2"/>
<circle cx="1071.5" cy="227.5" r="3.6" fill="none" stroke="#111" stroke-width="1.2"/>
<circle cx="1080.5" cy="222.5" r="3.6" fill="none" stroke="#111" stroke-width="1.2"/>
<line x1="1058.5" y1="217" x2="1058.5" y2="233" stroke="#111" stroke-width="0.9" shape-rendering="crispEdges"/>
<line x1="1086.8" y1="217" x2="1086.8" y2="233" stroke="#111" stroke-width="0.9" shape-rendering="crispEdges"/>
<rect x="1091" y="218" width="6.5" height="14" fill="none" stroke="#111" stroke-width="1.3" rx="0" shape-rendering="crispEdges"/>
<circle cx="1094.2" cy="222" r="1.8" fill="none" stroke="#111" stroke-width="0.9"/>
<circle cx="1094.2" cy="228" r="1.8" fill="none" stroke="#111" stroke-width="0.9"/>
<rect x="1106" y="221.5" width="16" height="10" fill="none" stroke="#111" stroke-width="1.2" rx="0" shape-rendering="crispEdges"/>
<circle cx="1110" cy="225" r="1.6" fill="none" stroke="#111" stroke-width="0.9"/>
<circle cx="1114.5" cy="228.5" r="1.6" fill="none" stroke="#111" stroke-width="0.9"/>
<circle cx="1119" cy="225" r="1.6" fill="none" stroke="#111" stroke-width="0.9"/>
<circle cx="1130" cy="223" r="1.2" fill="#111"/>
<circle cx="1134" cy="223" r="1.2" fill="#111"/>
<circle cx="1138" cy="223" r="1.2" fill="#111"/>
<circle cx="1129" cy="228" r="1.2" fill="#111"/>
<circle cx="1133" cy="228" r="1.2" fill="#111"/>
<circle cx="1164" cy="223" r="1.2" fill="#111"/>
<circle cx="1168" cy="223" r="1.2" fill="#111"/>
<circle cx="1172" cy="223" r="1.2" fill="#111"/>
<circle cx="1163" cy="228" r="1.2" fill="#111"/>
<circle cx="1167" cy="228" r="1.2" fill="#111"/>
<circle cx="1171" cy="228" r="1.2" fill="#111"/>
<circle cx="1152" cy="230" r="1.2" fill="#111"/>
<rect x="1151" y="215.5" width="17" height="5" fill="none" stroke="#111" stroke-width="1.1" rx="0" shape-rendering="crispEdges"/>
<line x1="1072" y1="210" x2="1072" y2="214" stroke="#111" stroke-width="1.3" shape-rendering="crispEdges"/>
<path d="M1069,213.5 L1070.5,208 L1072,213.5" stroke="#111" stroke-width="0.9" fill="none"/>
<line x1="1012" y1="235.4" x2="1184.8" y2="235.4" stroke="#111" stroke-width="1.3" shape-rendering="crispEdges"/>
<line x1="1012" y1="241" x2="1184.8" y2="241" stroke="#111" stroke-width="2.0" shape-rendering="crispEdges"/>
<line x1="1012" y1="251.3" x2="1184.8" y2="251.3" stroke="#111" stroke-width="2.0" shape-rendering="crispEdges"/>
<line x1="1012" y1="256" x2="1184.8" y2="256" stroke="#111" stroke-width="1.3" shape-rendering="crispEdges"/>
<circle cx="1020" cy="246.2" r="0.95" fill="#111"/>
<circle cx="1026" cy="244.1" r="0.95" fill="#111"/>
<circle cx="1029" cy="246.2" r="0.95" fill="#111"/>
<circle cx="1034" cy="246.2" r="0.95" fill="#111"/>
<circle cx="1042" cy="244.1" r="0.95" fill="#111"/>
<circle cx="1046" cy="248.2" r="0.95" fill="#111"/>
<circle cx="1056" cy="246.2" r="0.95" fill="#111"/>
<circle cx="1061" cy="246.2" r="0.95" fill="#111"/>
<circle cx="1065" cy="244.1" r="0.95" fill="#111"/>
<circle cx="1078" cy="247.2" r="0.95" fill="#111"/>
<circle cx="1083" cy="247.2" r="0.95" fill="#111"/>
<circle cx="1089" cy="244.1" r="0.95" fill="#111"/>
<circle cx="1105" cy="247.2" r="0.95" fill="#111"/>
<circle cx="1108" cy="244.1" r="0.95" fill="#111"/>
<circle cx="1112" cy="249.2" r="0.95" fill="#111"/>
<circle cx="1116" cy="245.1" r="0.95" fill="#111"/>
<circle cx="1119" cy="247.2" r="0.95" fill="#111"/>
<circle cx="1136" cy="244.1" r="0.95" fill="#111"/>
<circle cx="1143" cy="246.2" r="0.95" fill="#111"/>
<circle cx="1147" cy="246.2" r="0.95" fill="#111"/>
<circle cx="1152" cy="245.1" r="0.95" fill="#111"/>
<circle cx="1170" cy="246.2" r="0.95" fill="#111"/>
<circle cx="1174" cy="246.2" r="0.95" fill="#111"/>
<circle cx="1180" cy="244.1" r="0.95" fill="#111"/>
<circle cx="1069.0" cy="244.0" r="0.6" fill="#111"/>
<circle cx="1123.6" cy="243.5" r="0.6" fill="#111"/>
<circle cx="1104.4" cy="245.3" r="0.6" fill="#111"/>
<circle cx="1024.7" cy="246.2" r="0.6" fill="#111"/>
<circle cx="1021.3" cy="245.7" r="0.6" fill="#111"/>
<circle cx="1026.7" cy="243.6" r="0.6" fill="#111"/>
<circle cx="1085.8" cy="248.2" r="0.6" fill="#111"/>
<circle cx="1035.7" cy="244.4" r="0.6" fill="#111"/>
<circle cx="1119.7" cy="249.0" r="0.6" fill="#111"/>
<circle cx="1111.3" cy="245.5" r="0.6" fill="#111"/>
<line x1="1012" y1="341.8" x2="1184.8" y2="341.8" stroke="#111" stroke-width="1.3" shape-rendering="crispEdges"/>
<line x1="1012" y1="344.7" x2="1184.8" y2="344.7" stroke="#111" stroke-width="2.0" shape-rendering="crispEdges"/>
<line x1="1012" y1="354.6" x2="1184.8" y2="354.6" stroke="#111" stroke-width="2.0" shape-rendering="crispEdges"/>
<line x1="1012" y1="357.6" x2="1184.8" y2="357.6" stroke="#111" stroke-width="1.3" shape-rendering="crispEdges"/>
<circle cx="1020" cy="349.6" r="0.95" fill="#111"/>
<circle cx="1026" cy="347.7" r="0.95" fill="#111"/>
<circle cx="1029" cy="349.6" r="0.95" fill="#111"/>
<circle cx="1034" cy="349.6" r="0.95" fill="#111"/>
<circle cx="1042" cy="347.7" r="0.95" fill="#111"/>
<circle cx="1046" cy="351.6" r="0.95" fill="#111"/>
<circle cx="1056" cy="349.6" r="0.95" fill="#111"/>
<circle cx="1061" cy="349.6" r="0.95" fill="#111"/>
<circle cx="1065" cy="347.7" r="0.95" fill="#111"/>
<circle cx="1078" cy="350.6" r="0.95" fill="#111"/>
<circle cx="1083" cy="350.6" r="0.95" fill="#111"/>
<circle cx="1089" cy="347.7" r="0.95" fill="#111"/>
<circle cx="1105" cy="350.6" r="0.95" fill="#111"/>
<circle cx="1108" cy="347.7" r="0.95" fill="#111"/>
<circle cx="1112" cy="352.6" r="0.95" fill="#111"/>
<circle cx="1116" cy="348.7" r="0.95" fill="#111"/>
<circle cx="1119" cy="350.6" r="0.95" fill="#111"/>
<circle cx="1136" cy="347.7" r="0.95" fill="#111"/>
<circle cx="1143" cy="349.6" r="0.95" fill="#111"/>
<circle cx="1147" cy="349.6" r="0.95" fill="#111"/>
<circle cx="1152" cy="348.7" r="0.95" fill="#111"/>
<circle cx="1170" cy="349.6" r="0.95" fill="#111"/>
<circle cx="1174" cy="349.6" r="0.95" fill="#111"/>
<circle cx="1180" cy="347.7" r="0.95" fill="#111"/>
<circle cx="1177.8" cy="347.0" r="0.6" fill="#111"/>
<circle cx="1158.2" cy="348.4" r="0.6" fill="#111"/>
<circle cx="1039.1" cy="347.4" r="0.6" fill="#111"/>
<circle cx="1066.5" cy="351.5" r="0.6" fill="#111"/>
<circle cx="1045.1" cy="350.1" r="0.6" fill="#111"/>
<circle cx="1121.6" cy="348.9" r="0.6" fill="#111"/>
<circle cx="1106.4" cy="347.1" r="0.6" fill="#111"/>
<circle cx="1024.9" cy="347.9" r="0.6" fill="#111"/>
<circle cx="1128.5" cy="349.2" r="0.6" fill="#111"/>
<circle cx="1067.4" cy="350.2" r="0.6" fill="#111"/>
<line x1="1012" y1="433.4" x2="1184.8" y2="433.4" stroke="#111" stroke-width="1.3" shape-rendering="crispEdges"/>
<line x1="1012" y1="436.4" x2="1184.8" y2="436.4" stroke="#111" stroke-width="2.0" shape-rendering="crispEdges"/>
<line x1="1012" y1="447.2" x2="1184.8" y2="447.2" stroke="#111" stroke-width="2.0" shape-rendering="crispEdges"/>
<line x1="1012" y1="450.2" x2="1184.8" y2="450.2" stroke="#111" stroke-width="1.3" shape-rendering="crispEdges"/>
<circle cx="1020" cy="441.8" r="0.95" fill="#111"/>
<circle cx="1026" cy="439.6" r="0.95" fill="#111"/>
<circle cx="1029" cy="441.8" r="0.95" fill="#111"/>
<circle cx="1034" cy="441.8" r="0.95" fill="#111"/>
<circle cx="1042" cy="439.6" r="0.95" fill="#111"/>
<circle cx="1046" cy="444.0" r="0.95" fill="#111"/>
<circle cx="1056" cy="441.8" r="0.95" fill="#111"/>
<circle cx="1061" cy="441.8" r="0.95" fill="#111"/>
<circle cx="1065" cy="439.6" r="0.95" fill="#111"/>
<circle cx="1078" cy="442.9" r="0.95" fill="#111"/>
<circle cx="1083" cy="442.9" r="0.95" fill="#111"/>
<circle cx="1089" cy="439.6" r="0.95" fill="#111"/>
<circle cx="1105" cy="442.9" r="0.95" fill="#111"/>
<circle cx="1108" cy="439.6" r="0.95" fill="#111"/>
<circle cx="1112" cy="445.0" r="0.95" fill="#111"/>
<circle cx="1116" cy="440.7" r="0.95" fill="#111"/>
<circle cx="1119" cy="442.9" r="0.95" fill="#111"/>
<circle cx="1136" cy="439.6" r="0.95" fill="#111"/>
<circle cx="1143" cy="441.8" r="0.95" fill="#111"/>
<circle cx="1147" cy="441.8" r="0.95" fill="#111"/>
<circle cx="1152" cy="440.7" r="0.95" fill="#111"/>
<circle cx="1170" cy="441.8" r="0.95" fill="#111"/>
<circle cx="1174" cy="441.8" r="0.95" fill="#111"/>
<circle cx="1180" cy="439.6" r="0.95" fill="#111"/>
<circle cx="1090.6" cy="440.4" r="0.6" fill="#111"/>
<circle cx="1147.5" cy="443.2" r="0.6" fill="#111"/>
<circle cx="1055.7" cy="442.3" r="0.6" fill="#111"/>
<circle cx="1102.6" cy="444.4" r="0.6" fill="#111"/>
<circle cx="1136.7" cy="440.4" r="0.6" fill="#111"/>
<circle cx="1178.5" cy="439.2" r="0.6" fill="#111"/>
<circle cx="1084.7" cy="443.5" r="0.6" fill="#111"/>
<circle cx="1040.4" cy="441.7" r="0.6" fill="#111"/>
<circle cx="1021.5" cy="442.9" r="0.6" fill="#111"/>
<circle cx="1142.5" cy="442.3" r="0.6" fill="#111"/>
<line x1="1012" y1="482.8" x2="1184.8" y2="482.8" stroke="#111" stroke-width="1.3" shape-rendering="crispEdges"/>
<line x1="1012" y1="485.7" x2="1184.8" y2="485.7" stroke="#111" stroke-width="2.0" shape-rendering="crispEdges"/>
<line x1="1012" y1="496.6" x2="1184.8" y2="496.6" stroke="#111" stroke-width="2.0" shape-rendering="crispEdges"/>
<line x1="1012" y1="499.5" x2="1184.8" y2="499.5" stroke="#111" stroke-width="1.3" shape-rendering="crispEdges"/>
<circle cx="1020" cy="491.1" r="0.95" fill="#111"/>
<circle cx="1026" cy="489.0" r="0.95" fill="#111"/>
<circle cx="1029" cy="491.1" r="0.95" fill="#111"/>
<circle cx="1034" cy="491.1" r="0.95" fill="#111"/>
<circle cx="1042" cy="489.0" r="0.95" fill="#111"/>
<circle cx="1046" cy="493.3" r="0.95" fill="#111"/>
<circle cx="1056" cy="491.1" r="0.95" fill="#111"/>
<circle cx="1061" cy="491.1" r="0.95" fill="#111"/>
<circle cx="1065" cy="489.0" r="0.95" fill="#111"/>
<circle cx="1078" cy="492.2" r="0.95" fill="#111"/>
<circle cx="1083" cy="492.2" r="0.95" fill="#111"/>
<circle cx="1089" cy="489.0" r="0.95" fill="#111"/>
<circle cx="1105" cy="492.2" r="0.95" fill="#111"/>
<circle cx="1108" cy="489.0" r="0.95" fill="#111"/>
<circle cx="1112" cy="494.4" r="0.95" fill="#111"/>
<circle cx="1116" cy="490.1" r="0.95" fill="#111"/>
<circle cx="1119" cy="492.2" r="0.95" fill="#111"/>
<circle cx="1136" cy="489.0" r="0.95" fill="#111"/>
<circle cx="1143" cy="491.1" r="0.95" fill="#111"/>
<circle cx="1147" cy="491.1" r="0.95" fill="#111"/>
<circle cx="1152" cy="490.1" r="0.95" fill="#111"/>
<circle cx="1170" cy="491.1" r="0.95" fill="#111"/>
<circle cx="1174" cy="491.1" r="0.95" fill="#111"/>
<circle cx="1180" cy="489.0" r="0.95" fill="#111"/>
<circle cx="1161.0" cy="489.9" r="0.6" fill="#111"/>
<circle cx="1131.0" cy="491.8" r="0.6" fill="#111"/>
<circle cx="1111.7" cy="490.8" r="0.6" fill="#111"/>
<circle cx="1155.1" cy="494.2" r="0.6" fill="#111"/>
<circle cx="1094.1" cy="492.3" r="0.6" fill="#111"/>
<circle cx="1025.1" cy="492.5" r="0.6" fill="#111"/>
<circle cx="1122.9" cy="494.6" r="0.6" fill="#111"/>
<circle cx="1152.1" cy="489.7" r="0.6" fill="#111"/>
<circle cx="1079.4" cy="492.3" r="0.6" fill="#111"/>
<circle cx="1018.8" cy="490.9" r="0.6" fill="#111"/>
<line x1="1012" y1="566.3" x2="1184.8" y2="566.3" stroke="#111" stroke-width="1.3" shape-rendering="crispEdges"/>
<line x1="1012" y1="569.5" x2="1184.8" y2="569.5" stroke="#111" stroke-width="2.0" shape-rendering="crispEdges"/>
<line x1="1012" y1="580.2" x2="1184.8" y2="580.2" stroke="#111" stroke-width="2.0" shape-rendering="crispEdges"/>
<line x1="1012" y1="583.9" x2="1184.8" y2="583.9" stroke="#111" stroke-width="1.3" shape-rendering="crispEdges"/>
<circle cx="1020" cy="574.9" r="0.95" fill="#111"/>
<circle cx="1026" cy="572.7" r="0.95" fill="#111"/>
<circle cx="1029" cy="574.9" r="0.95" fill="#111"/>
<circle cx="1034" cy="574.9" r="0.95" fill="#111"/>
<circle cx="1042" cy="572.7" r="0.95" fill="#111"/>
<circle cx="1046" cy="577.0" r="0.95" fill="#111"/>
<circle cx="1056" cy="574.9" r="0.95" fill="#111"/>
<circle cx="1061" cy="574.9" r="0.95" fill="#111"/>
<circle cx="1065" cy="572.7" r="0.95" fill="#111"/>
<circle cx="1078" cy="575.9" r="0.95" fill="#111"/>
<circle cx="1083" cy="575.9" r="0.95" fill="#111"/>
<circle cx="1089" cy="572.7" r="0.95" fill="#111"/>
<circle cx="1105" cy="575.9" r="0.95" fill="#111"/>
<circle cx="1108" cy="572.7" r="0.95" fill="#111"/>
<circle cx="1112" cy="578.1" r="0.95" fill="#111"/>
<circle cx="1116" cy="573.8" r="0.95" fill="#111"/>
<circle cx="1119" cy="575.9" r="0.95" fill="#111"/>
<circle cx="1136" cy="572.7" r="0.95" fill="#111"/>
<circle cx="1143" cy="574.9" r="0.95" fill="#111"/>
<circle cx="1147" cy="574.9" r="0.95" fill="#111"/>
<circle cx="1152" cy="573.8" r="0.95" fill="#111"/>
<circle cx="1170" cy="574.9" r="0.95" fill="#111"/>
<circle cx="1174" cy="574.9" r="0.95" fill="#111"/>
<circle cx="1180" cy="572.7" r="0.95" fill="#111"/>
<circle cx="1043.0" cy="572.3" r="0.6" fill="#111"/>
<circle cx="1024.8" cy="576.6" r="0.6" fill="#111"/>
<circle cx="1036.6" cy="573.2" r="0.6" fill="#111"/>
<circle cx="1080.2" cy="577.3" r="0.6" fill="#111"/>
<circle cx="1028.4" cy="574.5" r="0.6" fill="#111"/>
<circle cx="1106.6" cy="577.4" r="0.6" fill="#111"/>
<circle cx="1151.7" cy="577.3" r="0.6" fill="#111"/>
<circle cx="1061.4" cy="574.3" r="0.6" fill="#111"/>
<circle cx="1074.8" cy="577.4" r="0.6" fill="#111"/>
<circle cx="1174.7" cy="572.5" r="0.6" fill="#111"/>
<line x1="1012" y1="237.5" x2="1184.8" y2="237.5" stroke="#111" stroke-width="1.2" stroke-dasharray="7 1.2"/>
<line x1="1012" y1="597.8" x2="1184.8" y2="597.8" stroke="#111" stroke-width="1.5" shape-rendering="crispEdges"/>
<line x1="1005.9" y1="602.4" x2="1190.3" y2="602.4" stroke="#111" stroke-width="1.2" shape-rendering="crispEdges"/>
<line x1="1005.9" y1="605.2" x2="1190.3" y2="605.2" stroke="#111" stroke-width="2.2" shape-rendering="crispEdges"/>
<line x1="1012" y1="603.8" x2="1184" y2="603.8" stroke="#222" stroke-width="2.6" stroke-dasharray="14 1.5"/>
<rect x="1021.4" y="256" width="28" height="85.8" fill="none" stroke="#111" stroke-width="1.6" rx="0" shape-rendering="crispEdges"/>
<line x1="1050.6" y1="256" x2="1050.6" y2="341.8" stroke="#111" stroke-width="1.5" shape-rendering="crispEdges"/>
<line x1="1054.4" y1="256" x2="1054.4" y2="341.8" stroke="#111" stroke-width="1.5" shape-rendering="crispEdges"/>
<line x1="1015" y1="256" x2="1015" y2="341.8" stroke="#111" stroke-width="0.9" shape-rendering="crispEdges"/>
<line x1="1018" y1="256" x2="1018" y2="341.8" stroke="#111" stroke-width="1.3" shape-rendering="crispEdges"/>
<rect x="1029.5" y="263" width="12.8" height="10" fill="#fff" stroke="#111" stroke-width="1.6" rx="2"/>
<path d="M1031,265.5 Q1036,268 1041,265.5 M1031,270.5 Q1036,268 1041,270.5" stroke="#111" stroke-width="1.6" fill="none"/>
<rect x="1029.5" y="282" width="12.8" height="10" fill="#fff" stroke="#111" stroke-width="1.6" rx="2"/>
<rect x="1031" y="283.5" width="4" height="7" fill="#111"/>
<path d="M1034,284 Q1040,285 1040,290" stroke="#111" stroke-width="1.4" fill="none"/>
<rect x="1029.5" y="300.6" width="12.8" height="10" fill="#fff" stroke="#111" stroke-width="1.6" rx="2"/>
<rect x="1029.5" y="319.4" width="12.8" height="10" fill="#fff" stroke="#111" stroke-width="1.6" rx="2"/>
<rect x="1031" y="320.9" width="4" height="7" fill="#111"/>
<path d="M1034,321.4 Q1040,322.4 1040,327.4" stroke="#111" stroke-width="1.4" fill="none"/>
<circle cx="1025" cy="263" r="0.9" fill="#111"/>
<circle cx="1046" cy="263" r="0.9" fill="#111"/>
<circle cx="1025" cy="269" r="0.9" fill="#111"/>
<circle cx="1046" cy="269" r="0.9" fill="#111"/>
<circle cx="1025" cy="281" r="0.9" fill="#111"/>
<circle cx="1046" cy="281" r="0.9" fill="#111"/>
<circle cx="1025" cy="289" r="0.9" fill="#111"/>
<circle cx="1046" cy="289" r="0.9" fill="#111"/>
<circle cx="1025" cy="311" r="0.9" fill="#111"/>
<circle cx="1046" cy="311" r="0.9" fill="#111"/>
<circle cx="1025" cy="315" r="0.9" fill="#111"/>
<circle cx="1046" cy="315" r="0.9" fill="#111"/>
<circle cx="1025" cy="320" r="0.9" fill="#111"/>
<circle cx="1046" cy="320" r="0.9" fill="#111"/>
<circle cx="1025" cy="326" r="0.9" fill="#111"/>
<circle cx="1046" cy="326" r="0.9" fill="#111"/>
<circle cx="1025" cy="332" r="0.9" fill="#111"/>
<circle cx="1046" cy="332" r="0.9" fill="#111"/>
<circle cx="1025" cy="336" r="0.9" fill="#111"/>
<circle cx="1046" cy="336" r="0.9" fill="#111"/>
<rect x="1013" y="275" width="4" height="6" fill="#333"/>
<rect x="1013" y="290" width="4" height="6" fill="#333"/>
<rect x="1013" y="320" width="4" height="4" fill="#333"/>
<rect x="1065" y="257.5" width="8" height="9.5" fill="none" stroke="#111" stroke-width="1.3" rx="0" shape-rendering="crispEdges"/>
<line x1="1055" y1="270" x2="1096.9" y2="270" stroke="#111" stroke-width="1.3" shape-rendering="crispEdges"/>
<line x1="1055" y1="276" x2="1096.9" y2="276" stroke="#111" stroke-width="1.3" shape-rendering="crispEdges"/>
<line x1="1067.5" y1="267" x2="1067.5" y2="341.8" stroke="#111" stroke-width="1.3" shape-rendering="crispEdges"/>
<line x1="1071" y1="267" x2="1071" y2="341.8" stroke="#111" stroke-width="1.3" shape-rendering="crispEdges"/>
<rect x="1057" y="279" width="20" height="12" fill="none" stroke="#111" stroke-width="1.2" rx="0" shape-rendering="crispEdges"/>
<rect x="1080" y="278" width="10" height="12" fill="none" stroke="#111" stroke-width="1.2" rx="0" shape-rendering="crispEdges"/>
<line x1="1057" y1="285" x2="1077" y2="285" stroke="#111" stroke-width="0.8" shape-rendering="crispEdges"/>
<rect x="1061" y="282" width="5" height="5" fill="#333"/>
<line x1="1055" y1="293" x2="1096.9" y2="293" stroke="#111" stroke-width="1.3" shape-rendering="crispEdges"/>
<line x1="1055" y1="296.5" x2="1096.9" y2="296.5" stroke="#111" stroke-width="1.0" shape-rendering="crispEdges"/>
<line x1="1055" y1="304" x2="1096.9" y2="304" stroke="#111" stroke-width="1.8" shape-rendering="crispEdges"/>
<line x1="1055" y1="307.5" x2="1096.9" y2="307.5" stroke="#111" stroke-width="1.0" shape-rendering="crispEdges"/>
<line x1="1077" y1="296" x2="1077" y2="341.8" stroke="#111" stroke-width="1.1" shape-rendering="crispEdges"/>
<line x1="1080.5" y1="296" x2="1080.5" y2="341.8" stroke="#111" stroke-width="1.1" shape-rendering="crispEdges"/>
<path d="M1091,294 L1078,327 M1093.5,295.5 L1080.5,328.5" stroke="#111" stroke-width="1.3" fill="none"/>
<line x1="1057" y1="258" x2="1057" y2="341.8" stroke="#111" stroke-width="1.0" shape-rendering="crispEdges"/>
<line x1="1060" y1="258" x2="1060" y2="341.8" stroke="#111" stroke-width="0.8" shape-rendering="crispEdges"/>
<line x1="1090.5" y1="258" x2="1090.5" y2="292" stroke="#111" stroke-width="1.0" shape-rendering="crispEdges"/>
<rect x="1088" y="258" width="8" height="4" fill="#111"/>
<rect x="1078" y="327" width="12" height="3" fill="#222"/>
<line x1="1055" y1="335" x2="1096.9" y2="335" stroke="#111" stroke-width="1.0" shape-rendering="crispEdges"/>
<line x1="1096.9" y1="256" x2="1096.9" y2="341.8" stroke="#111" stroke-width="2.2" shape-rendering="crispEdges"/>
<line x1="1112" y1="256" x2="1112" y2="341.8" stroke="#111" stroke-width="2.2" shape-rendering="crispEdges"/>
<circle cx="1099" cy="277" r="0.8" fill="#111"/>
<circle cx="1103" cy="277" r="0.8" fill="#111"/>
<circle cx="1108" cy="277" r="0.8" fill="#111"/>
<circle cx="1099" cy="290" r="0.8" fill="#111"/>
<circle cx="1108" cy="290" r="0.8" fill="#111"/>
<circle cx="1099" cy="298" r="0.8" fill="#111"/>
<circle cx="1108" cy="298" r="0.8" fill="#111"/>
<circle cx="1103" cy="325" r="0.8" fill="#111"/>
<circle cx="1107" cy="329" r="0.8" fill="#111"/>
<line x1="1113" y1="270" x2="1183.7" y2="270" stroke="#111" stroke-width="1.8" stroke-dasharray="7 1.2"/>
<rect x="1119" y="272" width="64.7" height="5" fill="none" stroke="#111" stroke-width="1.3" rx="0" shape-rendering="crispEdges"/>
<line x1="1121" y1="291.8" x2="1183.7" y2="291.8" stroke="#111" stroke-width="2.0" shape-rendering="crispEdges"/>
<rect x="1121" y="292.5" width="62.7" height="4" fill="none" stroke="#111" stroke-width="1.1" rx="0" shape-rendering="crispEdges"/>
<line x1="1113" y1="298" x2="1183.7" y2="298" stroke="#111" stroke-width="1.8" stroke-dasharray="7 1.2"/>
<line x1="1121" y1="277" x2="1121" y2="292" stroke="#111" stroke-width="1.2" shape-rendering="crispEdges"/>
<rect x="1113" y="284" width="14" height="6" fill="none" stroke="#111" stroke-width="1.1" rx="0" shape-rendering="crispEdges"/>
<path d="M1115,300 L1132.5,300 L1132.5,341.8 M1117,303 L1130,303 L1130,341.8" stroke="#111" stroke-width="1.2" fill="none"/>
<line x1="1113" y1="300" x2="1113" y2="341.8" stroke="#111" stroke-width="1.8" shape-rendering="crispEdges"/>
<line x1="1117" y1="318" x2="1125" y2="318" stroke="#111" stroke-width="2.2" shape-rendering="crispEdges"/>
<line x1="1113" y1="328.5" x2="1183.7" y2="328.5" stroke="#111" stroke-width="2.0" shape-rendering="crispEdges"/>
<line x1="1113" y1="331.5" x2="1183.7" y2="331.5" stroke="#111" stroke-width="1.3" shape-rendering="crispEdges"/>
<rect x="1166" y="273" width="5" height="4" fill="#111"/>
<rect x="1166" y="292.5" width="5" height="4" fill="#111"/>
<circle cx="1145" cy="274" r="0.8" fill="#111"/>
<circle cx="1145" cy="280" r="0.8" fill="#111"/>
<circle cx="1145" cy="290" r="0.8" fill="#111"/>
<circle cx="1175" cy="280" r="0.8" fill="#111"/>
<circle cx="1175" cy="290" r="0.8" fill="#111"/>
<circle cx="1170" cy="296" r="0.8" fill="#111"/>
<rect x="1021.4" y="357.6" width="28" height="75.8" fill="none" stroke="#111" stroke-width="1.6" rx="0" shape-rendering="crispEdges"/>
<line x1="1050.4" y1="357.6" x2="1050.4" y2="433.4" stroke="#111" stroke-width="1.5" shape-rendering="crispEdges"/>
<line x1="1053" y1="357.6" x2="1053" y2="433.4" stroke="#111" stroke-width="1.3" shape-rendering="crispEdges"/>
<line x1="1055" y1="357.6" x2="1055" y2="433.4" stroke="#111" stroke-width="0.9" shape-rendering="crispEdges"/>
<line x1="1015" y1="357.6" x2="1015" y2="433.4" stroke="#111" stroke-width="0.9" shape-rendering="crispEdges"/>
<line x1="1018" y1="357.6" x2="1018" y2="433.4" stroke="#111" stroke-width="1.3" shape-rendering="crispEdges"/>
<rect x="1029.5" y="361" width="12.8" height="10" fill="#fff" stroke="#111" stroke-width="1.6" rx="2"/>
<rect x="1031" y="362.5" width="4" height="7" fill="#111"/>
<path d="M1034,363 Q1040,364 1040,369" stroke="#111" stroke-width="1.4" fill="none"/>
<rect x="1029.5" y="379.5" width="12.8" height="10" fill="#fff" stroke="#111" stroke-width="1.6" rx="2"/>
<rect x="1029.5" y="397.9" width="12.8" height="10" fill="#fff" stroke="#111" stroke-width="1.6" rx="2"/>
<rect x="1031" y="402.9" width="10" height="3.5" fill="#111"/>
<path d="M1031,400.9 Q1036,398.9 1041,400.9" stroke="#111" stroke-width="1.3" fill="none"/>
<rect x="1029.5" y="417" width="12.8" height="10" fill="#fff" stroke="#111" stroke-width="1.6" rx="2"/>
<path d="M1031,421 Q1036,419 1041,421" stroke="#111" stroke-width="1.4" fill="none"/>
<line x1="1031.5" y1="424.5" x2="1041" y2="424.5" stroke="#111" stroke-width="1" shape-rendering="crispEdges"/>
<circle cx="1025" cy="372" r="0.9" fill="#111"/>
<circle cx="1046" cy="372" r="0.9" fill="#111"/>
<circle cx="1025" cy="376" r="0.9" fill="#111"/>
<circle cx="1046" cy="376" r="0.9" fill="#111"/>
<circle cx="1025" cy="393" r="0.9" fill="#111"/>
<circle cx="1046" cy="393" r="0.9" fill="#111"/>
<circle cx="1025" cy="395" r="0.9" fill="#111"/>
<circle cx="1046" cy="395" r="0.9" fill="#111"/>
<circle cx="1025" cy="410" r="0.9" fill="#111"/>
<circle cx="1046" cy="410" r="0.9" fill="#111"/>
<circle cx="1025" cy="414" r="0.9" fill="#111"/>
<circle cx="1046" cy="414" r="0.9" fill="#111"/>
<circle cx="1025" cy="418" r="0.9" fill="#111"/>
<circle cx="1046" cy="418" r="0.9" fill="#111"/>
<circle cx="1025" cy="423" r="0.9" fill="#111"/>
<circle cx="1046" cy="423" r="0.9" fill="#111"/>
<rect x="1013" y="372" width="4" height="8" fill="#333"/>
<rect x="1013" y="390" width="4" height="6" fill="#333"/>
<line x1="1069.5" y1="357.6" x2="1069.5" y2="404.5" stroke="#111" stroke-width="1.3" shape-rendering="crispEdges"/>
<line x1="1074.7" y1="357.6" x2="1074.7" y2="404.5" stroke="#111" stroke-width="1.3" shape-rendering="crispEdges"/>
<path d="M1073.4,404.5 L1063,430.8 M1069.5,404.5 L1059.5,429" stroke="#111" stroke-width="1.5" fill="none"/>
<path d="M1056,390 Q1056,385 1061,385 L1066,385 Q1071,385 1071,390 L1071,400 M1059,395 L1059,433 M1063,400 L1063,420" stroke="#111" stroke-width="1.2" fill="none"/>
<rect x="1057" y="358" width="5" height="4" fill="#111"/>
<circle cx="1060" cy="363" r="3" fill="none" stroke="#111" stroke-width="1.2"/>
<line x1="1055" y1="369.6" x2="1069" y2="369.6" stroke="#111" stroke-width="1.3" shape-rendering="crispEdges"/>
<line x1="1055" y1="373.5" x2="1069" y2="373.5" stroke="#111" stroke-width="1.8" shape-rendering="crispEdges"/>
<line x1="1055" y1="377.5" x2="1069" y2="377.5" stroke="#111" stroke-width="1.2" shape-rendering="crispEdges"/>
<line x1="1055" y1="384.5" x2="1069" y2="384.5" stroke="#111" stroke-width="1.2" shape-rendering="crispEdges"/>
<line x1="1055" y1="388.7" x2="1069" y2="388.7" stroke="#111" stroke-width="1.8" shape-rendering="crispEdges"/>
<line x1="1055" y1="420.5" x2="1096" y2="420.5" stroke="#111" stroke-width="1.6" shape-rendering="crispEdges"/>
<line x1="1055" y1="424" x2="1096" y2="424" stroke="#111" stroke-width="1.0" shape-rendering="crispEdges"/>
<line x1="1084" y1="357.6" x2="1084" y2="433.4" stroke="#111" stroke-width="1.3" shape-rendering="crispEdges"/>
<line x1="1089" y1="357.6" x2="1089" y2="433.4" stroke="#111" stroke-width="1.3" shape-rendering="crispEdges"/>
<line x1="1090.5" y1="357.6" x2="1090.5" y2="433.4" stroke="#111" stroke-width="1.0" shape-rendering="crispEdges"/>
<line x1="1095.8" y1="357.6" x2="1095.8" y2="433.4" stroke="#111" stroke-width="1.4" shape-rendering="crispEdges"/>
<rect x="1077" y="385" width="7" height="8" fill="none" stroke="#111" stroke-width="1" rx="0" shape-rendering="crispEdges"/>
<rect x="1075" y="396" width="6" height="2" fill="#111"/>
<line x1="1098.3" y1="357.6" x2="1098.3" y2="433.4" stroke="#111" stroke-width="1.3" shape-rendering="crispEdges"/>
<line x1="1108" y1="357.6" x2="1108" y2="433.4" stroke="#111" stroke-width="1.3" shape-rendering="crispEdges"/>
<line x1="1112" y1="357.6" x2="1112" y2="433.4" stroke="#111" stroke-width="1.3" shape-rendering="crispEdges"/>
<line x1="1112.8" y1="357.6" x2="1112.8" y2="433.4" stroke="#111" stroke-width="1.3" shape-rendering="crispEdges"/>
<line x1="1116" y1="357.6" x2="1116" y2="433.4" stroke="#111" stroke-width="1.3" shape-rendering="crispEdges"/>
<line x1="1117.4" y1="357.6" x2="1117.4" y2="433.4" stroke="#111" stroke-width="1.3" shape-rendering="crispEdges"/>
<line x1="1122.6" y1="357.6" x2="1122.6" y2="433.4" stroke="#111" stroke-width="1.3" shape-rendering="crispEdges"/>
<path d="M1100,360 Q1103,385 1101,410 M1104,365 L1104,405" stroke="#111" stroke-width="0.8" fill="none"/>
<line x1="1122.6" y1="360.5" x2="1183.7" y2="360.5" stroke="#111" stroke-width="1.6" stroke-dasharray="7 1.2"/>
<rect x="1122.6" y="363.7" width="61" height="4.6" fill="none" stroke="#111" stroke-width="1.3" rx="0" shape-rendering="crispEdges"/>
<line x1="1122.6" y1="383.5" x2="1183.7" y2="383.5" stroke="#111" stroke-width="2.0" shape-rendering="crispEdges"/>
<rect x="1122.6" y="385.4" width="61" height="3" fill="none" stroke="#111" stroke-width="1.1" rx="0" shape-rendering="crispEdges"/>
<line x1="1122.6" y1="390" x2="1183.7" y2="390" stroke="#111" stroke-width="1.6" stroke-dasharray="7 1.2"/>
<circle cx="1170" cy="365.7" r="2.4" fill="#111"/>
<circle cx="1170" cy="385.4" r="2.4" fill="#111"/>
<path d="M1132.5,359.7 L1132.5,372 Q1132.5,378 1126,378 L1122.6,378 M1129.5,359.7 L1129.5,371 Q1129.5,375 1125,375 L1122.6,375" stroke="#111" stroke-width="1.5" fill="none"/>
<path d="M1123.3,399 A5,5 0 0 1 1123.3,409" stroke="#111" stroke-width="1.3" fill="none"/>
<line x1="1122.6" y1="420.3" x2="1183.7" y2="420.3" stroke="#111" stroke-width="2.2" stroke-dasharray="7 1.2"/>
<line x1="1122.6" y1="424.3" x2="1183.7" y2="424.3" stroke="#111" stroke-width="1.3" shape-rendering="crispEdges"/>
<circle cx="1145" cy="428.5" r="1" fill="#111"/>
<circle cx="1172" cy="428.5" r="0.9" fill="#111"/>
<circle cx="1145" cy="367" r="0.8" fill="#111"/>
<circle cx="1145" cy="372" r="0.8" fill="#111"/>
<circle cx="1172" cy="372" r="0.8" fill="#111"/>
<circle cx="1145" cy="380" r="0.8" fill="#111"/>
<circle cx="1172" cy="380" r="0.8" fill="#111"/>
<path d="M1015,451.4 L1015,457 Q1015,460.7 1020,460.7 Q1026,460.7 1026,457 L1026,451.4 M1018,451.4 L1018,456 Q1018,458 1020.5,458 Q1023,458 1023,456 L1023,451.4" stroke="#111" stroke-width="1.2" fill="none"/>
<path d="M1034.6,451.4 L1034.6,456 Q1034.6,460.7 1040,460.7 L1047,460.7 Q1052.4,460.7 1052.4,456 L1052.4,451.4 M1037.5,451.4 L1037.5,455 Q1037.5,458 1041,458 L1046,458 Q1049.5,458 1049.5,455 L1049.5,451.4" stroke="#111" stroke-width="1.2" fill="none"/>
<rect x="1043.8" y="460.7" width="7.2" height="17.7" fill="none" stroke="#111" stroke-width="1.3" rx="0" shape-rendering="crispEdges"/>
<rect x="1045" y="465" width="3" height="3" fill="#111"/>
<rect x="1045" y="471" width="3" height="3" fill="#111"/>
<circle cx="1057" cy="453" r="3.2" fill="none" stroke="#111" stroke-width="1.3"/>
<line x1="1012" y1="455.5" x2="1067" y2="455.5" stroke="#111" stroke-width="1.2" shape-rendering="crispEdges"/>
<line x1="1012" y1="462" x2="1067" y2="462" stroke="#111" stroke-width="1.0" shape-rendering="crispEdges"/>
<line x1="1012" y1="468.5" x2="1067" y2="468.5" stroke="#111" stroke-width="1.8" shape-rendering="crispEdges"/>
<line x1="1012" y1="470.5" x2="1067" y2="470.5" stroke="#111" stroke-width="0.9" shape-rendering="crispEdges"/>
<line x1="1012" y1="474" x2="1067" y2="474" stroke="#111" stroke-width="1.8" shape-rendering="crispEdges"/>
<line x1="1012" y1="481" x2="1067.5" y2="481" stroke="#111" stroke-width="1.5" stroke-dasharray="7 1.2"/>
<circle cx="1024.7" cy="477" r="2.5" fill="#111"/>
<path d="M1013,464 Q1011,470 1013,475" stroke="#111" stroke-width="1.1" fill="none"/>
<rect x="1067.5" y="450.2" width="3.3" height="32.6" fill="none" stroke="#111" stroke-width="1.5" rx="0" shape-rendering="crispEdges"/>
<rect x="1068" y="470" width="2.3" height="5" fill="#555"/>
<line x1="1071" y1="462" x2="1086" y2="462" stroke="#111" stroke-width="1.0" shape-rendering="crispEdges"/>
<line x1="1071" y1="474.5" x2="1086" y2="474.5" stroke="#111" stroke-width="1.2" shape-rendering="crispEdges"/>
<line x1="1086" y1="450.2" x2="1086" y2="482.8" stroke="#111" stroke-width="1.3" shape-rendering="crispEdges"/>
<line x1="1089" y1="450.2" x2="1089" y2="482.8" stroke="#111" stroke-width="1.3" shape-rendering="crispEdges"/>
<line x1="1095.8" y1="450.2" x2="1095.8" y2="482.8" stroke="#111" stroke-width="1.3" shape-rendering="crispEdges"/>
<line x1="1098.4" y1="450.2" x2="1098.4" y2="482.8" stroke="#111" stroke-width="1.3" shape-rendering="crispEdges"/>
<line x1="1108" y1="450.2" x2="1108" y2="482.8" stroke="#111" stroke-width="1.3" shape-rendering="crispEdges"/>
<line x1="1112" y1="450.2" x2="1112" y2="482.8" stroke="#111" stroke-width="1.3" shape-rendering="crispEdges"/>
<line x1="1114" y1="450.2" x2="1114" y2="482.8" stroke="#111" stroke-width="1.3" shape-rendering="crispEdges"/>
<line x1="1118" y1="450.2" x2="1118" y2="482.8" stroke="#111" stroke-width="1.3" shape-rendering="crispEdges"/>
<line x1="1122" y1="450.2" x2="1122" y2="482.8" stroke="#111" stroke-width="1.3" shape-rendering="crispEdges"/>
<rect x="1099" y="466" width="9" height="10" fill="none" stroke="#111" stroke-width="1.1" rx="0" shape-rendering="crispEdges"/>
<rect x="1110" y="468" width="2" height="6" fill="#111"/>
<line x1="1122" y1="453" x2="1183.7" y2="453" stroke="#111" stroke-width="1.5" stroke-dasharray="7 1.2"/>
<line x1="1122" y1="456" x2="1183.7" y2="456" stroke="#111" stroke-width="1.2" shape-rendering="crispEdges"/>
<line x1="1122" y1="459.8" x2="1183.7" y2="459.8" stroke="#111" stroke-width="1.8" shape-rendering="crispEdges"/>
<line x1="1122" y1="474.5" x2="1183.7" y2="474.5" stroke="#111" stroke-width="1.8" shape-rendering="crispEdges"/>
<line x1="1122" y1="479.5" x2="1183.7" y2="479.5" stroke="#111" stroke-width="1.2" shape-rendering="crispEdges"/>
<line x1="1122" y1="481.5" x2="1183.7" y2="481.5" stroke="#111" stroke-width="1.3" stroke-dasharray="7 1.2"/>
<circle cx="1170" cy="478" r="2.2" fill="#111"/>
<circle cx="1145" cy="458" r="0.8" fill="#111"/>
<circle cx="1145" cy="464" r="0.8" fill="#111"/>
<circle cx="1172" cy="464" r="0.8" fill="#111"/>
<circle cx="1145" cy="473" r="0.8" fill="#111"/>
<circle cx="1170" cy="473" r="0.8" fill="#111"/>
<line x1="1012.8" y1="499.5" x2="1012.8" y2="566.3" stroke="#111" stroke-width="1.3" shape-rendering="crispEdges"/>
<rect x="1067.5" y="499.5" width="3.3" height="66.8" fill="none" stroke="#111" stroke-width="1.3" rx="0" shape-rendering="crispEdges"/>
<circle cx="1069.2" cy="503" r="0.6" fill="#111"/>
<circle cx="1069.2" cy="509" r="0.6" fill="#111"/>
<circle cx="1069.2" cy="515" r="0.6" fill="#111"/>
<circle cx="1069.2" cy="521" r="0.6" fill="#111"/>
<circle cx="1069.2" cy="527" r="0.6" fill="#111"/>
<circle cx="1069.2" cy="533" r="0.6" fill="#111"/>
<circle cx="1069.2" cy="539" r="0.6" fill="#111"/>
<circle cx="1069.2" cy="545" r="0.6" fill="#111"/>
<circle cx="1069.2" cy="551" r="0.6" fill="#111"/>
<circle cx="1069.2" cy="557" r="0.6" fill="#111"/>
<circle cx="1069.2" cy="563" r="0.6" fill="#111"/>
<line x1="1091.2" y1="499.5" x2="1091.2" y2="566.3" stroke="#111" stroke-width="1.5" shape-rendering="crispEdges"/>
<line x1="1012" y1="510.7" x2="1091" y2="510.7" stroke="#111" stroke-width="2.2" shape-rendering="crispEdges"/>
<line x1="1012" y1="514.5" x2="1091" y2="514.5" stroke="#111" stroke-width="1.2" stroke-dasharray="7 1.2"/>
<line x1="1012" y1="545.8" x2="1091" y2="545.8" stroke="#111" stroke-width="1.6" stroke-dasharray="7 1.2"/>
<rect x="1012" y="548" width="31" height="3" fill="none" stroke="#111" stroke-width="1.1" rx="0" shape-rendering="crispEdges"/>
<rect x="1050.3" y="548" width="17" height="3" fill="none" stroke="#111" stroke-width="1.1" rx="0" shape-rendering="crispEdges"/>
<rect x="1012" y="552.5" width="31" height="2.2" fill="#333"/>
<rect x="1050.3" y="552.5" width="17" height="2.2" fill="#333"/>
<rect x="1071" y="552.5" width="20" height="2.2" fill="#333"/>
<rect x="1012" y="556.5" width="31" height="2.2" fill="#333"/>
<rect x="1050.3" y="556.5" width="17" height="2.2" fill="#333"/>
<rect x="1071" y="556.5" width="20" height="2.2" fill="#333"/>
<rect x="1012" y="560.5" width="31" height="2.2" fill="#333"/>
<rect x="1050.3" y="560.5" width="17" height="2.2" fill="#333"/>
<rect x="1071" y="560.5" width="20" height="2.2" fill="#333"/>
<line x1="1012" y1="553" x2="1043" y2="553" stroke="#111" stroke-width="1.8" shape-rendering="crispEdges"/>
<line x1="1050.3" y1="553" x2="1091" y2="553" stroke="#111" stroke-width="1.8" shape-rendering="crispEdges"/>
<line x1="1012" y1="557.5" x2="1043" y2="557.5" stroke="#111" stroke-width="1.4" shape-rendering="crispEdges"/>
<line x1="1050.3" y1="557.5" x2="1091" y2="557.5" stroke="#111" stroke-width="1.1" shape-rendering="crispEdges"/>
<line x1="1012" y1="564" x2="1091" y2="564" stroke="#111" stroke-width="1.6" shape-rendering="crispEdges"/>
<rect x="1043" y="548" width="7.3" height="17" fill="none" stroke="#111" stroke-width="1.3" rx="0" shape-rendering="crispEdges"/>
<circle cx="1045" cy="552" r="0.7" fill="#111"/>
<circle cx="1048" cy="552" r="0.7" fill="#111"/>
<circle cx="1045" cy="558" r="0.7" fill="#111"/>
<circle cx="1048" cy="558" r="0.7" fill="#111"/>
<circle cx="1045" cy="563" r="0.7" fill="#111"/>
<circle cx="1048" cy="563" r="0.7" fill="#111"/>
<rect x="1025" y="547" width="5" height="5" fill="#111"/>
<path d="M1067.6,499.5 L1067.6,555 Q1067.6,558.5 1063,558.5 L1060,559 M1071,499.5 L1071,554 Q1071,561.5 1063,561.5" stroke="#111" stroke-width="1.3" fill="none"/>
<path d="M1099,504 Q1096,515 1098,520 Q1101,530 1101,540 M1103,504 Q1100,515 1102,520" stroke="#111" stroke-width="1.1" fill="none"/>
<rect x="1097" y="504" width="4" height="8" fill="#444"/>
<line x1="1104" y1="499.5" x2="1104" y2="566.3" stroke="#111" stroke-width="1.5" shape-rendering="crispEdges"/>
<line x1="1107.5" y1="499.5" x2="1107.5" y2="566.3" stroke="#111" stroke-width="1.5" shape-rendering="crispEdges"/>
<line x1="1119.3" y1="499.5" x2="1119.3" y2="566.3" stroke="#111" stroke-width="1.5" shape-rendering="crispEdges"/>
<line x1="1124.6" y1="499.5" x2="1124.6" y2="566.3" stroke="#111" stroke-width="1.5" shape-rendering="crispEdges"/>
<line x1="1155.5" y1="499.5" x2="1155.5" y2="566.3" stroke="#111" stroke-width="1.5" shape-rendering="crispEdges"/>
<line x1="1160" y1="499.5" x2="1160" y2="566.3" stroke="#111" stroke-width="1.5" shape-rendering="crispEdges"/>
<line x1="1172.6" y1="499.5" x2="1172.6" y2="566.3" stroke="#111" stroke-width="1.5" shape-rendering="crispEdges"/>
<line x1="1177" y1="499.5" x2="1177" y2="566.3" stroke="#111" stroke-width="1.5" shape-rendering="crispEdges"/>
<ellipse cx="1111.4" cy="504" rx="0.9" ry="1.5" fill="#111"/>
<ellipse cx="1111.4" cy="508" rx="0.9" ry="1.5" fill="#111"/>
<ellipse cx="1111.4" cy="516" rx="0.9" ry="1.5" fill="#111"/>
<ellipse cx="1111.4" cy="520" rx="0.9" ry="1.5" fill="#111"/>
<ellipse cx="1111.4" cy="524" rx="0.9" ry="1.5" fill="#111"/>
<ellipse cx="1111.4" cy="528" rx="0.9" ry="1.5" fill="#111"/>
<ellipse cx="1116" cy="504" rx="0.9" ry="1.5" fill="#111"/>
<ellipse cx="1116" cy="508" rx="0.9" ry="1.5" fill="#111"/>
<ellipse cx="1116" cy="516" rx="0.9" ry="1.5" fill="#111"/>
<ellipse cx="1116" cy="520" rx="0.9" ry="1.5" fill="#111"/>
<ellipse cx="1116" cy="524" rx="0.9" ry="1.5" fill="#111"/>
<ellipse cx="1116" cy="528" rx="0.9" ry="1.5" fill="#111"/>
<ellipse cx="1162.8" cy="504" rx="0.9" ry="1.5" fill="#111"/>
<ellipse cx="1162.8" cy="508" rx="0.9" ry="1.5" fill="#111"/>
<ellipse cx="1162.8" cy="516" rx="0.9" ry="1.5" fill="#111"/>
<ellipse cx="1162.8" cy="520" rx="0.9" ry="1.5" fill="#111"/>
<ellipse cx="1162.8" cy="524" rx="0.9" ry="1.5" fill="#111"/>
<ellipse cx="1162.8" cy="528" rx="0.9" ry="1.5" fill="#111"/>
<ellipse cx="1167.4" cy="504" rx="0.9" ry="1.5" fill="#111"/>
<ellipse cx="1167.4" cy="508" rx="0.9" ry="1.5" fill="#111"/>
<ellipse cx="1167.4" cy="516" rx="0.9" ry="1.5" fill="#111"/>
<ellipse cx="1167.4" cy="520" rx="0.9" ry="1.5" fill="#111"/>
<ellipse cx="1167.4" cy="524" rx="0.9" ry="1.5" fill="#111"/>
<ellipse cx="1167.4" cy="528" rx="0.9" ry="1.5" fill="#111"/>
<line x1="1124.6" y1="510.7" x2="1155.5" y2="510.7" stroke="#111" stroke-width="1.9" shape-rendering="crispEdges"/>
<line x1="1124.6" y1="514" x2="1155.5" y2="514" stroke="#111" stroke-width="1.3" shape-rendering="crispEdges"/>
<line x1="1124.6" y1="516.5" x2="1155.5" y2="516.5" stroke="#111" stroke-width="1.1" shape-rendering="crispEdges"/>
<line x1="1124.6" y1="526.5" x2="1155.5" y2="526.5" stroke="#111" stroke-width="1.2" shape-rendering="crispEdges"/>
<circle cx="1128.5" cy="521.2" r="1.7" fill="#111"/>
<rect x="1162" y="512" width="10" height="5" fill="none" stroke="#111" stroke-width="1" rx="0" shape-rendering="crispEdges"/>
<rect x="1177" y="513" width="4.5" height="52" fill="none" stroke="#111" stroke-width="1.1" rx="0" shape-rendering="crispEdges"/>
<line x1="1124.6" y1="545.5" x2="1155.5" y2="545.5" stroke="#111" stroke-width="1.7" shape-rendering="crispEdges"/>
<line x1="1124.6" y1="550" x2="1155.5" y2="550" stroke="#111" stroke-width="1.4" shape-rendering="crispEdges"/>
<line x1="1177" y1="545.5" x2="1184.8" y2="545.5" stroke="#111" stroke-width="1.7" shape-rendering="crispEdges"/>
<line x1="1177" y1="550" x2="1184.8" y2="550" stroke="#111" stroke-width="1.4" shape-rendering="crispEdges"/>
<circle cx="1140" cy="553" r="0.8" fill="#111"/>
<circle cx="1140" cy="563" r="0.8" fill="#111"/>
<circle cx="1180" cy="555" r="0.8" fill="#111"/>
<circle cx="1180" cy="563" r="0.8" fill="#111"/>
<circle cx="1111" cy="560" r="0.7" fill="#111"/>
<circle cx="1165" cy="560" r="0.7" fill="#111"/>
<rect x="1004.5" y="372" width="2.8" height="8" fill="#111"/>
<rect x="1189" y="372" width="2.8" height="8" fill="#111"/>
<rect x="1004.5" y="529.9" width="2.8" height="8" fill="#111"/>
<rect x="1189" y="529.9" width="2.8" height="8" fill="#111"/>
<line x1="965" y1="216.6" x2="1005.6" y2="216.6" stroke="#111" stroke-width="0.8" shape-rendering="crispEdges"/>
<line x1="985" y1="232.8" x2="1005.6" y2="232.8" stroke="#111" stroke-width="0.8" shape-rendering="crispEdges"/>
<line x1="988.8" y1="206" x2="988.8" y2="216.6" stroke="#111" stroke-width="0.9" shape-rendering="crispEdges"/>
<polygon points="988.8,216.6 987.1999999999999,211.6 990.4,211.6" fill="#111"/>
<text transform="scale(0.74,1)" x="1336.49" y="229.5" font-size="11" fill="#111" text-anchor="middle" font-family="Liberation Sans" textLength="20.95" lengthAdjust="spacing">193</text>
<line x1="967" y1="216.6" x2="967" y2="605.5" stroke="#111" stroke-width="0.9" shape-rendering="crispEdges"/>
<polygon points="967,216.6 965.4,221.6 968.6,221.6" fill="#111"/>
<polygon points="967,605.5 965.4,600.5 968.6,600.5" fill="#111"/>
<rect x="956" y="405" width="23" height="11" fill="#fff"/>
<text transform="scale(0.74,1)" x="1307.3" y="414.8" font-size="11" fill="#111" text-anchor="middle" font-family="Liberation Sans" textLength="27.03" lengthAdjust="spacing">4731</text>
<line x1="988.8" y1="232.8" x2="988.8" y2="533.9" stroke="#111" stroke-width="0.9" shape-rendering="crispEdges"/>
<polygon points="988.8,232.8 987.1999999999999,237.8 990.4,237.8" fill="#111"/>
<polygon points="988.8,376 987.1999999999999,371 990.4,371" fill="#111"/>
<polygon points="988.8,376 987.1999999999999,381 990.4,381" fill="#111"/>
<polygon points="988.8,533.9 987.1999999999999,528.9 990.4,528.9" fill="#111"/>
<rect x="977" y="299" width="24" height="11" fill="#fff"/>
<text transform="scale(0.74,1)" x="1336.49" y="309" font-size="11" fill="#111" text-anchor="middle" font-family="Liberation Sans" textLength="29.05" lengthAdjust="spacing">1753</text>
<rect x="977" y="449" width="24" height="11" fill="#fff"/>
<text transform="scale(0.74,1)" x="1336.49" y="459" font-size="11" fill="#111" text-anchor="middle" font-family="Liberation Sans" textLength="29.05" lengthAdjust="spacing">1918</text>
<line x1="988.8" y1="376" x2="1008" y2="376" stroke="#111" stroke-width="0.8" shape-rendering="crispEdges"/>
<line x1="988.8" y1="533.9" x2="1005.6" y2="533.9" stroke="#111" stroke-width="0.8" shape-rendering="crispEdges"/>
<line x1="967" y1="605.5" x2="1005.6" y2="605.5" stroke="#111" stroke-width="0.8" shape-rendering="crispEdges"/>
<line x1="1005.6" y1="605" x2="1005.6" y2="640" stroke="#111" stroke-width="0.8" shape-rendering="crispEdges"/>
<line x1="1190.7" y1="605" x2="1190.7" y2="640" stroke="#111" stroke-width="0.8" shape-rendering="crispEdges"/>
<line x1="1009" y1="606" x2="1009" y2="624" stroke="#111" stroke-width="0.8" shape-rendering="crispEdges"/>
<line x1="1187" y1="606" x2="1187" y2="624" stroke="#111" stroke-width="0.8" shape-rendering="crispEdges"/>
<line x1="1009" y1="619" x2="1187" y2="619" stroke="#111" stroke-width="0.9" shape-rendering="crispEdges"/>
<polygon points="1009,619 1014,617.4 1014,620.6" fill="#111"/>
<polygon points="1187,619 1182,617.4 1182,620.6" fill="#111"/>
<rect x="1085.25" y="614.5" width="25.5" height="9" fill="#fff"/>
<text transform="scale(0.74,1)" x="1483.78" y="623" font-size="11" fill="#111" text-anchor="middle" font-family="Liberation Sans" textLength="29.05" lengthAdjust="spacing">2171</text>
<line x1="1005.6" y1="633" x2="1190.7" y2="633" stroke="#111" stroke-width="0.9" shape-rendering="crispEdges"/>
<polygon points="1005.6,633 1010.6,631.4 1010.6,634.6" fill="#111"/>
<polygon points="1190.7,633 1185.7,631.4 1185.7,634.6" fill="#111"/>
<rect x="1085.25" y="628.5" width="25.5" height="9" fill="#fff"/>
<text transform="scale(0.74,1)" x="1483.78" y="637" font-size="11" fill="#111" text-anchor="middle" font-family="Liberation Sans" textLength="29.05" lengthAdjust="spacing">2242</text>
<line x1="996" y1="619" x2="1005.6" y2="619" stroke="#111" stroke-width="0.9" shape-rendering="crispEdges"/>
<polygon points="1005.6,619 1000.6,617.4 1000.6,620.6" fill="#111"/>
<text transform="scale(0.74,1)" x="1336.49" y="623" font-size="11" fill="#111" text-anchor="middle" font-family="Liberation Sans" textLength="14.19" lengthAdjust="spacing">35</text>
<path d="M1190.7,531.5 L1209,521 L1213,521" stroke="#111" stroke-width="0.9" fill="none"/>
<text x="1213.5" y="526" font-size="12.5" fill="#111" text-anchor="start" font-family="Liberation Sans" textLength="93" lengthAdjust="spacingAndGlyphs" stroke="#111" stroke-width="0.35">减震器安装位置共6处</text>
<line x1="53.5" y1="735.3" x2="1251.5" y2="735.3" stroke="#3a3a3a" stroke-width="3.2" stroke-linecap="round" stroke-dasharray="0.6 2.7"/>
</svg>
</body></html>
